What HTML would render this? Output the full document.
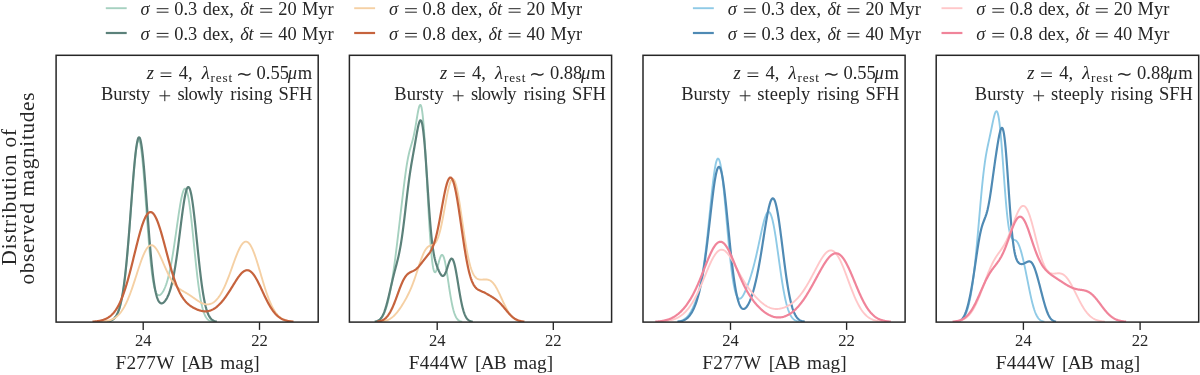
<!DOCTYPE html>
<html><head><meta charset="utf-8"><title>figure</title>
<style>
html,body{margin:0;padding:0;background:#fff;}
body{width:1200px;height:375px;overflow:hidden;}
svg{display:block;}
text{font-family:"Liberation Serif",serif;fill:#262626;}
.i{font-style:italic;}
</style></head><body>
<svg width="1200" height="375" viewBox="0 0 1200 375">
<rect x="0" y="0" width="1200" height="375" fill="#ffffff"/>
<g opacity="0.999">
<line x1="105.80" y1="8.20" x2="126.70" y2="8.20" stroke="#a6d1c0" stroke-width="1.9"/>
<text x="140.60" y="14.80" font-size="18.4" class="i">&#963;</text>
<line x1="156.70" y1="8.70" x2="168.50" y2="8.70" stroke="#262626" stroke-width="1.0"/>
<line x1="156.70" y1="12.20" x2="168.50" y2="12.20" stroke="#262626" stroke-width="1.0"/>
<text x="174.20" y="14.80" font-size="18.4">0.3</text>
<text x="202.80" y="14.80" font-size="18.4">dex,</text>
<text x="240.20" y="14.80" font-size="18.4" class="i">&#948;</text>
<text x="248.60" y="14.80" font-size="18.4" class="i">t</text>
<line x1="260.20" y1="8.70" x2="272.20" y2="8.70" stroke="#262626" stroke-width="1.0"/>
<line x1="260.20" y1="12.20" x2="272.20" y2="12.20" stroke="#262626" stroke-width="1.0"/>
<text x="278.20" y="14.80" font-size="18.4">20</text>
<text x="302.00" y="14.80" font-size="18.4">Myr</text>
<line x1="105.80" y1="33.00" x2="126.70" y2="33.00" stroke="#5b817a" stroke-width="2.2"/>
<text x="140.60" y="39.50" font-size="18.4" class="i">&#963;</text>
<line x1="156.70" y1="33.40" x2="168.50" y2="33.40" stroke="#262626" stroke-width="1.0"/>
<line x1="156.70" y1="36.90" x2="168.50" y2="36.90" stroke="#262626" stroke-width="1.0"/>
<text x="174.20" y="39.50" font-size="18.4">0.3</text>
<text x="202.80" y="39.50" font-size="18.4">dex,</text>
<text x="240.20" y="39.50" font-size="18.4" class="i">&#948;</text>
<text x="248.60" y="39.50" font-size="18.4" class="i">t</text>
<line x1="260.20" y1="33.40" x2="272.20" y2="33.40" stroke="#262626" stroke-width="1.0"/>
<line x1="260.20" y1="36.90" x2="272.20" y2="36.90" stroke="#262626" stroke-width="1.0"/>
<text x="278.20" y="39.50" font-size="18.4">40</text>
<text x="302.00" y="39.50" font-size="18.4">Myr</text>
<line x1="354.20" y1="8.20" x2="375.10" y2="8.20" stroke="#f5d0a4" stroke-width="1.9"/>
<text x="389.00" y="14.80" font-size="18.4" class="i">&#963;</text>
<line x1="405.10" y1="8.70" x2="416.90" y2="8.70" stroke="#262626" stroke-width="1.0"/>
<line x1="405.10" y1="12.20" x2="416.90" y2="12.20" stroke="#262626" stroke-width="1.0"/>
<text x="422.60" y="14.80" font-size="18.4">0.8</text>
<text x="451.20" y="14.80" font-size="18.4">dex,</text>
<text x="488.60" y="14.80" font-size="18.4" class="i">&#948;</text>
<text x="497.00" y="14.80" font-size="18.4" class="i">t</text>
<line x1="508.60" y1="8.70" x2="520.60" y2="8.70" stroke="#262626" stroke-width="1.0"/>
<line x1="508.60" y1="12.20" x2="520.60" y2="12.20" stroke="#262626" stroke-width="1.0"/>
<text x="526.60" y="14.80" font-size="18.4">20</text>
<text x="550.40" y="14.80" font-size="18.4">Myr</text>
<line x1="354.20" y1="33.00" x2="375.10" y2="33.00" stroke="#c6633d" stroke-width="2.2"/>
<text x="389.00" y="39.50" font-size="18.4" class="i">&#963;</text>
<line x1="405.10" y1="33.40" x2="416.90" y2="33.40" stroke="#262626" stroke-width="1.0"/>
<line x1="405.10" y1="36.90" x2="416.90" y2="36.90" stroke="#262626" stroke-width="1.0"/>
<text x="422.60" y="39.50" font-size="18.4">0.8</text>
<text x="451.20" y="39.50" font-size="18.4">dex,</text>
<text x="488.60" y="39.50" font-size="18.4" class="i">&#948;</text>
<text x="497.00" y="39.50" font-size="18.4" class="i">t</text>
<line x1="508.60" y1="33.40" x2="520.60" y2="33.40" stroke="#262626" stroke-width="1.0"/>
<line x1="508.60" y1="36.90" x2="520.60" y2="36.90" stroke="#262626" stroke-width="1.0"/>
<text x="526.60" y="39.50" font-size="18.4">40</text>
<text x="550.40" y="39.50" font-size="18.4">Myr</text>
<line x1="692.90" y1="8.20" x2="713.80" y2="8.20" stroke="#8fcae6" stroke-width="1.9"/>
<text x="727.80" y="14.80" font-size="18.4" class="i">&#963;</text>
<line x1="743.90" y1="8.70" x2="755.70" y2="8.70" stroke="#262626" stroke-width="1.0"/>
<line x1="743.90" y1="12.20" x2="755.70" y2="12.20" stroke="#262626" stroke-width="1.0"/>
<text x="761.40" y="14.80" font-size="18.4">0.3</text>
<text x="790.00" y="14.80" font-size="18.4">dex,</text>
<text x="827.40" y="14.80" font-size="18.4" class="i">&#948;</text>
<text x="835.80" y="14.80" font-size="18.4" class="i">t</text>
<line x1="847.40" y1="8.70" x2="859.40" y2="8.70" stroke="#262626" stroke-width="1.0"/>
<line x1="847.40" y1="12.20" x2="859.40" y2="12.20" stroke="#262626" stroke-width="1.0"/>
<text x="865.40" y="14.80" font-size="18.4">20</text>
<text x="889.20" y="14.80" font-size="18.4">Myr</text>
<line x1="692.90" y1="33.00" x2="713.80" y2="33.00" stroke="#4f8ab4" stroke-width="2.2"/>
<text x="727.80" y="39.50" font-size="18.4" class="i">&#963;</text>
<line x1="743.90" y1="33.40" x2="755.70" y2="33.40" stroke="#262626" stroke-width="1.0"/>
<line x1="743.90" y1="36.90" x2="755.70" y2="36.90" stroke="#262626" stroke-width="1.0"/>
<text x="761.40" y="39.50" font-size="18.4">0.3</text>
<text x="790.00" y="39.50" font-size="18.4">dex,</text>
<text x="827.40" y="39.50" font-size="18.4" class="i">&#948;</text>
<text x="835.80" y="39.50" font-size="18.4" class="i">t</text>
<line x1="847.40" y1="33.40" x2="859.40" y2="33.40" stroke="#262626" stroke-width="1.0"/>
<line x1="847.40" y1="36.90" x2="859.40" y2="36.90" stroke="#262626" stroke-width="1.0"/>
<text x="865.40" y="39.50" font-size="18.4">40</text>
<text x="889.20" y="39.50" font-size="18.4">Myr</text>
<line x1="941.50" y1="8.20" x2="962.40" y2="8.20" stroke="#ffc7c9" stroke-width="1.9"/>
<text x="976.20" y="14.80" font-size="18.4" class="i">&#963;</text>
<line x1="992.30" y1="8.70" x2="1004.10" y2="8.70" stroke="#262626" stroke-width="1.0"/>
<line x1="992.30" y1="12.20" x2="1004.10" y2="12.20" stroke="#262626" stroke-width="1.0"/>
<text x="1009.80" y="14.80" font-size="18.4">0.8</text>
<text x="1038.40" y="14.80" font-size="18.4">dex,</text>
<text x="1075.80" y="14.80" font-size="18.4" class="i">&#948;</text>
<text x="1084.20" y="14.80" font-size="18.4" class="i">t</text>
<line x1="1095.80" y1="8.70" x2="1107.80" y2="8.70" stroke="#262626" stroke-width="1.0"/>
<line x1="1095.80" y1="12.20" x2="1107.80" y2="12.20" stroke="#262626" stroke-width="1.0"/>
<text x="1113.80" y="14.80" font-size="18.4">20</text>
<text x="1137.60" y="14.80" font-size="18.4">Myr</text>
<line x1="941.50" y1="33.00" x2="962.40" y2="33.00" stroke="#f0849a" stroke-width="2.2"/>
<text x="976.20" y="39.50" font-size="18.4" class="i">&#963;</text>
<line x1="992.30" y1="33.40" x2="1004.10" y2="33.40" stroke="#262626" stroke-width="1.0"/>
<line x1="992.30" y1="36.90" x2="1004.10" y2="36.90" stroke="#262626" stroke-width="1.0"/>
<text x="1009.80" y="39.50" font-size="18.4">0.8</text>
<text x="1038.40" y="39.50" font-size="18.4">dex,</text>
<text x="1075.80" y="39.50" font-size="18.4" class="i">&#948;</text>
<text x="1084.20" y="39.50" font-size="18.4" class="i">t</text>
<line x1="1095.80" y1="33.40" x2="1107.80" y2="33.40" stroke="#262626" stroke-width="1.0"/>
<line x1="1095.80" y1="36.90" x2="1107.80" y2="36.90" stroke="#262626" stroke-width="1.0"/>
<text x="1113.80" y="39.50" font-size="18.4">40</text>
<text x="1137.60" y="39.50" font-size="18.4">Myr</text>
<clipPath id="cp0"><rect x="56.1" y="55.3" width="262.10" height="266.80"/></clipPath>
<g clip-path="url(#cp0)" fill="none" stroke-linejoin="round" stroke-linecap="butt">
<path d="M107.2,321.67 L107.7,321.60 L108.2,321.52 L108.7,321.42 L109.2,321.31 L109.7,321.18 L110.2,321.02 L110.7,320.85 L111.2,320.64 L111.7,320.40 L112.2,320.13 L112.7,319.81 L113.2,319.45 L113.7,319.05 L114.2,318.58 L114.7,318.06 L115.2,317.46 L115.7,316.79 L116.2,316.04 L116.7,315.19 L117.2,314.24 L117.7,313.19 L118.2,312.01 L118.7,310.70 L119.2,309.24 L119.7,307.63 L120.2,305.84 L120.7,303.88 L121.2,301.72 L121.7,299.35 L122.2,296.75 L122.7,293.92 L123.2,290.83 L123.7,287.49 L124.2,283.87 L124.7,279.97 L125.2,275.79 L125.7,271.31 L126.2,266.55 L126.7,261.49 L127.2,256.16 L127.7,250.55 L128.2,244.69 L128.7,238.60 L129.2,232.30 L129.7,225.84 L130.2,219.24 L130.7,212.55 L131.2,205.82 L131.7,199.10 L132.2,192.45 L132.7,185.94 L133.2,179.62 L133.7,173.55 L134.2,167.82 L134.7,162.47 L135.2,157.57 L135.7,153.19 L136.2,149.37 L136.7,146.17 L137.2,143.63 L137.7,141.78 L138.2,140.65 L138.7,140.27 L139.2,140.63 L139.7,141.74 L140.2,143.58 L140.7,146.13 L141.2,149.37 L141.7,153.25 L142.2,157.72 L142.7,162.73 L143.2,168.21 L143.7,174.11 L144.2,180.36 L144.7,186.87 L145.2,193.59 L145.7,200.43 L146.2,207.33 L146.7,214.22 L147.2,221.04 L147.7,227.72 L148.2,234.22 L148.7,240.48 L149.2,246.47 L149.7,252.14 L150.2,257.48 L150.7,262.45 L151.2,267.05 L151.7,271.26 L152.2,275.08 L152.7,278.52 L153.2,281.59 L153.7,284.28 L154.2,286.62 L154.7,288.63 L155.2,290.33 L155.7,291.74 L156.2,292.87 L156.7,293.76 L157.2,294.42 L157.7,294.88 L158.2,295.16 L158.7,295.27 L159.2,295.24 L159.7,295.08 L160.2,294.81 L160.7,294.43 L161.2,293.95 L161.7,293.38 L162.2,292.73 L162.7,291.99 L163.2,291.17 L163.7,290.26 L164.2,289.27 L164.7,288.18 L165.2,287.00 L165.7,285.72 L166.2,284.33 L166.7,282.83 L167.2,281.21 L167.7,279.46 L168.2,277.60 L168.7,275.60 L169.2,273.47 L169.7,271.20 L170.2,268.81 L170.7,266.28 L171.2,263.63 L171.7,260.85 L172.2,257.95 L172.7,254.93 L173.2,251.82 L173.7,248.60 L174.2,245.31 L174.7,241.94 L175.2,238.51 L175.7,235.03 L176.2,231.53 L176.7,228.01 L177.2,224.50 L177.7,221.01 L178.2,217.57 L178.7,214.20 L179.2,210.93 L179.7,207.78 L180.2,204.77 L180.7,201.93 L181.2,199.30 L181.7,196.89 L182.2,194.75 L182.7,192.88 L183.2,191.32 L183.7,190.10 L184.2,189.23 L184.7,188.74 L185.2,188.64 L185.7,188.94 L186.2,189.66 L186.7,190.79 L187.2,192.34 L187.7,194.30 L188.2,196.66 L188.7,199.42 L189.2,202.53 L189.7,205.99 L190.2,209.77 L190.7,213.83 L191.2,218.14 L191.7,222.66 L192.2,227.36 L192.7,232.19 L193.2,237.11 L193.7,242.08 L194.2,247.07 L194.7,252.03 L195.2,256.93 L195.7,261.74 L196.2,266.42 L196.7,270.96 L197.2,275.32 L197.7,279.49 L198.2,283.45 L198.7,287.19 L199.2,290.71 L199.7,293.98 L200.2,297.03 L200.7,299.84 L201.2,302.41 L201.7,304.77 L202.2,306.90 L202.7,308.83 L203.2,310.56 L203.7,312.11 L204.2,313.49 L204.7,314.70 L205.2,315.77 L205.7,316.71 L206.2,317.53 L206.7,318.23 L207.2,318.84 L207.7,319.36 L208.2,319.81 L208.7,320.19 L209.2,320.51 L209.7,320.77 L210.2,321.00 L210.7,321.19 L211.2,321.34 L211.7,321.47 L212.2,321.57 L212.7,321.66" stroke="#a6d1c0" stroke-width="1.9"/>
<path d="M106.3,321.66 L106.8,321.60 L107.3,321.53 L107.8,321.45 L108.3,321.35 L108.8,321.24 L109.3,321.11 L109.8,320.96 L110.3,320.79 L110.8,320.59 L111.3,320.37 L111.8,320.11 L112.3,319.82 L112.8,319.49 L113.3,319.12 L113.8,318.69 L114.3,318.21 L114.8,317.67 L115.3,317.06 L115.8,316.37 L116.3,315.59 L116.8,314.72 L117.3,313.75 L117.8,312.66 L118.3,311.44 L118.8,310.08 L119.3,308.57 L119.8,306.90 L120.3,305.04 L120.8,302.99 L121.3,300.74 L121.8,298.26 L122.3,295.55 L122.8,292.60 L123.3,289.39 L123.8,285.90 L124.3,282.15 L124.8,278.11 L125.3,273.78 L125.8,269.16 L126.3,264.27 L126.8,259.09 L127.3,253.64 L127.8,247.95 L128.3,242.02 L128.8,235.87 L129.3,229.55 L129.8,223.08 L130.3,216.50 L130.8,209.86 L131.3,203.19 L131.8,196.56 L132.3,190.00 L132.8,183.59 L133.3,177.37 L133.8,171.41 L134.3,165.76 L134.8,160.47 L135.3,155.62 L135.8,151.24 L136.3,147.38 L136.8,144.09 L137.3,141.41 L137.8,139.37 L138.3,138.00 L138.8,137.30 L139.3,137.29 L139.8,137.98 L140.3,139.35 L140.8,141.39 L141.3,144.08 L141.8,147.38 L142.3,151.27 L142.8,155.70 L143.3,160.61 L143.8,165.97 L144.3,171.71 L144.8,177.76 L145.3,184.08 L145.8,190.61 L146.3,197.27 L146.8,204.00 L147.3,210.77 L147.8,217.49 L148.3,224.13 L148.8,230.64 L149.3,236.97 L149.8,243.09 L150.3,248.96 L150.8,254.56 L151.3,259.85 L151.8,264.84 L152.3,269.49 L152.8,273.80 L153.3,277.78 L153.8,281.42 L154.3,284.72 L154.8,287.70 L155.3,290.36 L155.8,292.72 L156.3,294.79 L156.8,296.58 L157.3,298.13 L157.8,299.43 L158.3,300.51 L158.8,301.39 L159.3,302.08 L159.8,302.61 L160.3,302.98 L160.8,303.21 L161.3,303.32 L161.8,303.31 L162.3,303.20 L162.8,302.99 L163.3,302.69 L163.8,302.30 L164.3,301.84 L164.8,301.29 L165.3,300.67 L165.8,299.97 L166.3,299.20 L166.8,298.34 L167.3,297.39 L167.8,296.35 L168.3,295.22 L168.8,293.99 L169.3,292.64 L169.8,291.19 L170.3,289.61 L170.8,287.91 L171.3,286.08 L171.8,284.11 L172.3,281.99 L172.8,279.73 L173.3,277.32 L173.8,274.75 L174.3,272.03 L174.8,269.15 L175.3,266.12 L175.8,262.94 L176.3,259.62 L176.8,256.16 L177.3,252.57 L177.8,248.87 L178.3,245.07 L178.8,241.18 L179.3,237.23 L179.8,233.23 L180.3,229.21 L180.8,225.20 L181.3,221.23 L181.8,217.31 L182.3,213.50 L182.8,209.82 L183.3,206.30 L183.8,202.97 L184.3,199.88 L184.8,197.05 L185.3,194.51 L185.8,192.30 L186.3,190.45 L186.8,188.97 L187.3,187.89 L187.8,187.23 L188.3,186.99 L188.8,187.20 L189.3,187.85 L189.8,188.95 L190.3,190.48 L190.8,192.44 L191.3,194.81 L191.8,197.57 L192.3,200.70 L192.8,204.17 L193.3,207.95 L193.8,212.01 L194.3,216.31 L194.8,220.80 L195.3,225.47 L195.8,230.25 L196.3,235.12 L196.8,240.04 L197.3,244.97 L197.8,249.87 L198.3,254.71 L198.8,259.46 L199.3,264.10 L199.8,268.59 L200.3,272.93 L200.8,277.08 L201.3,281.04 L201.8,284.79 L202.3,288.32 L202.8,291.64 L203.3,294.74 L203.8,297.61 L204.3,300.26 L204.8,302.70 L205.3,304.93 L205.8,306.97 L206.3,308.81 L206.8,310.47 L207.3,311.96 L207.8,313.29 L208.3,314.47 L208.8,315.52 L209.3,316.44 L209.8,317.25 L210.3,317.96 L210.8,318.58 L211.3,319.11 L211.8,319.57 L212.3,319.96 L212.8,320.30 L213.3,320.59 L213.8,320.83 L214.3,321.04 L214.8,321.21 L215.3,321.35 L215.8,321.47 L216.3,321.57 L216.8,321.65" stroke="#5b817a" stroke-width="2.2"/>
<path d="M101.0,321.68 L101.5,321.65 L102.0,321.61 L102.5,321.57 L103.0,321.52 L103.5,321.47 L104.0,321.41 L104.5,321.35 L105.0,321.28 L105.5,321.21 L106.0,321.13 L106.5,321.04 L107.0,320.94 L107.5,320.84 L108.0,320.73 L108.5,320.60 L109.0,320.47 L109.5,320.33 L110.0,320.17 L110.5,320.00 L111.0,319.82 L111.5,319.63 L112.0,319.42 L112.5,319.19 L113.0,318.95 L113.5,318.69 L114.0,318.41 L114.5,318.11 L115.0,317.79 L115.5,317.45 L116.0,317.09 L116.5,316.70 L117.0,316.29 L117.5,315.85 L118.0,315.39 L118.5,314.89 L119.0,314.37 L119.5,313.82 L120.0,313.24 L120.5,312.62 L121.0,311.98 L121.5,311.30 L122.0,310.58 L122.5,309.83 L123.0,309.05 L123.5,308.22 L124.0,307.36 L124.5,306.47 L125.0,305.53 L125.5,304.56 L126.0,303.55 L126.5,302.50 L127.0,301.41 L127.5,300.28 L128.0,299.12 L128.5,297.92 L129.0,296.69 L129.5,295.42 L130.0,294.11 L130.5,292.78 L131.0,291.41 L131.5,290.01 L132.0,288.59 L132.5,287.14 L133.0,285.67 L133.5,284.17 L134.0,282.66 L134.5,281.13 L135.0,279.59 L135.5,278.04 L136.0,276.49 L136.5,274.93 L137.0,273.37 L137.5,271.81 L138.0,270.27 L138.5,268.73 L139.0,267.22 L139.5,265.72 L140.0,264.24 L140.5,262.80 L141.0,261.38 L141.5,260.00 L142.0,258.67 L142.5,257.37 L143.0,256.13 L143.5,254.93 L144.0,253.79 L144.5,252.71 L145.0,251.69 L145.5,250.74 L146.0,249.86 L146.5,249.04 L147.0,248.30 L147.5,247.64 L148.0,247.05 L148.5,246.54 L149.0,246.11 L149.5,245.77 L150.0,245.50 L150.5,245.32 L151.0,245.22 L151.5,245.20 L152.0,245.27 L152.5,245.41 L153.0,245.63 L153.5,245.93 L154.0,246.31 L154.5,246.76 L155.0,247.28 L155.5,247.87 L156.0,248.52 L156.5,249.24 L157.0,250.01 L157.5,250.84 L158.0,251.72 L158.5,252.64 L159.0,253.61 L159.5,254.62 L160.0,255.66 L160.5,256.73 L161.0,257.83 L161.5,258.94 L162.0,260.08 L162.5,261.22 L163.0,262.38 L163.5,263.54 L164.0,264.70 L164.5,265.85 L165.0,267.00 L165.5,268.14 L166.0,269.26 L166.5,270.37 L167.0,271.45 L167.5,272.52 L168.0,273.55 L168.5,274.57 L169.0,275.55 L169.5,276.50 L170.0,277.42 L170.5,278.31 L171.0,279.17 L171.5,279.99 L172.0,280.77 L172.5,281.52 L173.0,282.24 L173.5,282.93 L174.0,283.58 L174.5,284.20 L175.0,284.78 L175.5,285.34 L176.0,285.87 L176.5,286.37 L177.0,286.84 L177.5,287.29 L178.0,287.72 L178.5,288.12 L179.0,288.51 L179.5,288.88 L180.0,289.23 L180.5,289.57 L181.0,289.90 L181.5,290.21 L182.0,290.52 L182.5,290.82 L183.0,291.12 L183.5,291.41 L184.0,291.70 L184.5,291.99 L185.0,292.28 L185.5,292.57 L186.0,292.86 L186.5,293.16 L187.0,293.46 L187.5,293.76 L188.0,294.07 L188.5,294.38 L189.0,294.70 L189.5,295.02 L190.0,295.35 L190.5,295.69 L191.0,296.02 L191.5,296.37 L192.0,296.71 L192.5,297.06 L193.0,297.41 L193.5,297.77 L194.0,298.12 L194.5,298.48 L195.0,298.83 L195.5,299.18 L196.0,299.53 L196.5,299.88 L197.0,300.22 L197.5,300.55 L198.0,300.88 L198.5,301.20 L199.0,301.51 L199.5,301.81 L200.0,302.10 L200.5,302.38 L201.0,302.64 L201.5,302.88 L202.0,303.12 L202.5,303.33 L203.0,303.53 L203.5,303.71 L204.0,303.87 L204.5,304.01 L205.0,304.13 L205.5,304.23 L206.0,304.31 L206.5,304.36 L207.0,304.39 L207.5,304.40 L208.0,304.38 L208.5,304.33 L209.0,304.26 L209.5,304.16 L210.0,304.04 L210.5,303.89 L211.0,303.71 L211.5,303.50 L212.0,303.27 L212.5,303.00 L213.0,302.70 L213.5,302.38 L214.0,302.02 L214.5,301.63 L215.0,301.21 L215.5,300.76 L216.0,300.28 L216.5,299.76 L217.0,299.21 L217.5,298.62 L218.0,298.01 L218.5,297.35 L219.0,296.67 L219.5,295.94 L220.0,295.19 L220.5,294.39 L221.0,293.57 L221.5,292.70 L222.0,291.81 L222.5,290.87 L223.0,289.90 L223.5,288.90 L224.0,287.86 L224.5,286.79 L225.0,285.69 L225.5,284.56 L226.0,283.39 L226.5,282.19 L227.0,280.97 L227.5,279.72 L228.0,278.44 L228.5,277.14 L229.0,275.82 L229.5,274.48 L230.0,273.12 L230.5,271.75 L231.0,270.37 L231.5,268.97 L232.0,267.58 L232.5,266.18 L233.0,264.78 L233.5,263.39 L234.0,262.00 L234.5,260.63 L235.0,259.27 L235.5,257.94 L236.0,256.62 L236.5,255.34 L237.0,254.09 L237.5,252.88 L238.0,251.70 L238.5,250.58 L239.0,249.50 L239.5,248.48 L240.0,247.51 L240.5,246.60 L241.0,245.76 L241.5,244.99 L242.0,244.29 L242.5,243.67 L243.0,243.12 L243.5,242.66 L244.0,242.27 L244.5,241.97 L245.0,241.76 L245.5,241.64 L246.0,241.61 L246.5,241.66 L247.0,241.81 L247.5,242.05 L248.0,242.38 L248.5,242.79 L249.0,243.30 L249.5,243.90 L250.0,244.58 L250.5,245.35 L251.0,246.19 L251.5,247.12 L252.0,248.13 L252.5,249.20 L253.0,250.35 L253.5,251.57 L254.0,252.85 L254.5,254.19 L255.0,255.58 L255.5,257.02 L256.0,258.51 L256.5,260.04 L257.0,261.61 L257.5,263.22 L258.0,264.85 L258.5,266.50 L259.0,268.17 L259.5,269.86 L260.0,271.55 L260.5,273.26 L261.0,274.96 L261.5,276.66 L262.0,278.35 L262.5,280.04 L263.0,281.70 L263.5,283.36 L264.0,284.98 L264.5,286.59 L265.0,288.17 L265.5,289.72 L266.0,291.23 L266.5,292.71 L267.0,294.16 L267.5,295.57 L268.0,296.94 L268.5,298.26 L269.0,299.55 L269.5,300.79 L270.0,301.99 L270.5,303.15 L271.0,304.26 L271.5,305.32 L272.0,306.35 L272.5,307.33 L273.0,308.26 L273.5,309.15 L274.0,310.00 L274.5,310.81 L275.0,311.57 L275.5,312.30 L276.0,312.99 L276.5,313.63 L277.0,314.25 L277.5,314.82 L278.0,315.36 L278.5,315.87 L279.0,316.35 L279.5,316.80 L280.0,317.21 L280.5,317.60 L281.0,317.97 L281.5,318.30 L282.0,318.62 L282.5,318.91 L283.0,319.18 L283.5,319.43 L284.0,319.66 L284.5,319.87 L285.0,320.07 L285.5,320.25 L286.0,320.41 L286.5,320.56 L287.0,320.70 L287.5,320.83 L288.0,320.94 L288.5,321.05 L289.0,321.15 L289.5,321.23 L290.0,321.31 L290.5,321.38 L291.0,321.45 L291.5,321.51 L292.0,321.56 L292.5,321.61 L293.0,321.65" stroke="#f5d0a4" stroke-width="1.9"/>
<path d="M92.5,321.65 L93.0,321.62 L93.5,321.58 L94.0,321.54 L94.5,321.50 L95.0,321.45 L95.5,321.40 L96.0,321.35 L96.5,321.29 L97.0,321.22 L97.5,321.15 L98.0,321.08 L98.5,321.00 L99.0,320.91 L99.5,320.81 L100.0,320.71 L100.5,320.60 L101.0,320.49 L101.5,320.36 L102.0,320.23 L102.5,320.08 L103.0,319.93 L103.5,319.77 L104.0,319.59 L104.5,319.40 L105.0,319.20 L105.5,318.98 L106.0,318.75 L106.5,318.51 L107.0,318.24 L107.5,317.97 L108.0,317.67 L108.5,317.35 L109.0,317.02 L109.5,316.66 L110.0,316.29 L110.5,315.89 L111.0,315.46 L111.5,315.01 L112.0,314.53 L112.5,314.03 L113.0,313.50 L113.5,312.94 L114.0,312.34 L114.5,311.72 L115.0,311.06 L115.5,310.37 L116.0,309.64 L116.5,308.88 L117.0,308.07 L117.5,307.23 L118.0,306.35 L118.5,305.43 L119.0,304.46 L119.5,303.46 L120.0,302.41 L120.5,301.31 L121.0,300.17 L121.5,298.98 L122.0,297.75 L122.5,296.48 L123.0,295.15 L123.5,293.78 L124.0,292.37 L124.5,290.90 L125.0,289.40 L125.5,287.85 L126.0,286.25 L126.5,284.61 L127.0,282.93 L127.5,281.20 L128.0,279.44 L128.5,277.64 L129.0,275.81 L129.5,273.94 L130.0,272.04 L130.5,270.11 L131.0,268.16 L131.5,266.18 L132.0,264.18 L132.5,262.17 L133.0,260.14 L133.5,258.10 L134.0,256.06 L134.5,254.02 L135.0,251.97 L135.5,249.93 L136.0,247.90 L136.5,245.89 L137.0,243.90 L137.5,241.92 L138.0,239.98 L138.5,238.07 L139.0,236.19 L139.5,234.36 L140.0,232.57 L140.5,230.83 L141.0,229.14 L141.5,227.52 L142.0,225.95 L142.5,224.45 L143.0,223.03 L143.5,221.67 L144.0,220.40 L144.5,219.20 L145.0,218.09 L145.5,217.07 L146.0,216.13 L146.5,215.29 L147.0,214.54 L147.5,213.89 L148.0,213.33 L148.5,212.88 L149.0,212.52 L149.5,212.27 L150.0,212.12 L150.5,212.06 L151.0,212.11 L151.5,212.26 L152.0,212.52 L152.5,212.87 L153.0,213.32 L153.5,213.86 L154.0,214.50 L154.5,215.24 L155.0,216.06 L155.5,216.98 L156.0,217.97 L156.5,219.06 L157.0,220.22 L157.5,221.45 L158.0,222.76 L158.5,224.14 L159.0,225.58 L159.5,227.08 L160.0,228.64 L160.5,230.25 L161.0,231.91 L161.5,233.62 L162.0,235.36 L162.5,237.14 L163.0,238.95 L163.5,240.79 L164.0,242.64 L164.5,244.52 L165.0,246.41 L165.5,248.30 L166.0,250.20 L166.5,252.11 L167.0,254.00 L167.5,255.89 L168.0,257.77 L168.5,259.64 L169.0,261.49 L169.5,263.31 L170.0,265.12 L170.5,266.89 L171.0,268.64 L171.5,270.35 L172.0,272.03 L172.5,273.67 L173.0,275.27 L173.5,276.83 L174.0,278.36 L174.5,279.83 L175.0,281.27 L175.5,282.66 L176.0,284.01 L176.5,285.31 L177.0,286.56 L177.5,287.77 L178.0,288.93 L178.5,290.05 L179.0,291.12 L179.5,292.14 L180.0,293.13 L180.5,294.07 L181.0,294.97 L181.5,295.83 L182.0,296.65 L182.5,297.43 L183.0,298.17 L183.5,298.88 L184.0,299.55 L184.5,300.19 L185.0,300.81 L185.5,301.39 L186.0,301.94 L186.5,302.47 L187.0,302.97 L187.5,303.44 L188.0,303.90 L188.5,304.33 L189.0,304.75 L189.5,305.14 L190.0,305.52 L190.5,305.88 L191.0,306.23 L191.5,306.56 L192.0,306.88 L192.5,307.19 L193.0,307.48 L193.5,307.76 L194.0,308.04 L194.5,308.30 L195.0,308.55 L195.5,308.79 L196.0,309.02 L196.5,309.24 L197.0,309.45 L197.5,309.66 L198.0,309.85 L198.5,310.03 L199.0,310.20 L199.5,310.36 L200.0,310.51 L200.5,310.65 L201.0,310.78 L201.5,310.90 L202.0,311.00 L202.5,311.09 L203.0,311.17 L203.5,311.23 L204.0,311.28 L204.5,311.32 L205.0,311.34 L205.5,311.34 L206.0,311.33 L206.5,311.31 L207.0,311.26 L207.5,311.20 L208.0,311.12 L208.5,311.03 L209.0,310.92 L209.5,310.79 L210.0,310.64 L210.5,310.47 L211.0,310.29 L211.5,310.08 L212.0,309.86 L212.5,309.62 L213.0,309.36 L213.5,309.08 L214.0,308.79 L214.5,308.47 L215.0,308.14 L215.5,307.78 L216.0,307.41 L216.5,307.03 L217.0,306.62 L217.5,306.19 L218.0,305.75 L218.5,305.29 L219.0,304.81 L219.5,304.32 L220.0,303.81 L220.5,303.28 L221.0,302.73 L221.5,302.17 L222.0,301.59 L222.5,300.99 L223.0,300.38 L223.5,299.75 L224.0,299.11 L224.5,298.45 L225.0,297.78 L225.5,297.09 L226.0,296.39 L226.5,295.68 L227.0,294.95 L227.5,294.21 L228.0,293.46 L228.5,292.70 L229.0,291.92 L229.5,291.14 L230.0,290.35 L230.5,289.56 L231.0,288.75 L231.5,287.94 L232.0,287.13 L232.5,286.32 L233.0,285.50 L233.5,284.69 L234.0,283.87 L234.5,283.07 L235.0,282.26 L235.5,281.47 L236.0,280.68 L236.5,279.91 L237.0,279.15 L237.5,278.41 L238.0,277.68 L238.5,276.98 L239.0,276.30 L239.5,275.64 L240.0,275.01 L240.5,274.41 L241.0,273.84 L241.5,273.31 L242.0,272.81 L242.5,272.35 L243.0,271.93 L243.5,271.55 L244.0,271.21 L244.5,270.92 L245.0,270.68 L245.5,270.49 L246.0,270.35 L246.5,270.25 L247.0,270.21 L247.5,270.23 L248.0,270.29 L248.5,270.41 L249.0,270.58 L249.5,270.81 L250.0,271.09 L250.5,271.43 L251.0,271.81 L251.5,272.25 L252.0,272.74 L252.5,273.28 L253.0,273.87 L253.5,274.50 L254.0,275.18 L254.5,275.90 L255.0,276.67 L255.5,277.47 L256.0,278.31 L256.5,279.18 L257.0,280.09 L257.5,281.02 L258.0,281.98 L258.5,282.97 L259.0,283.97 L259.5,285.00 L260.0,286.04 L260.5,287.09 L261.0,288.15 L261.5,289.22 L262.0,290.30 L262.5,291.38 L263.0,292.45 L263.5,293.53 L264.0,294.60 L264.5,295.66 L265.0,296.71 L265.5,297.74 L266.0,298.77 L266.5,299.78 L267.0,300.77 L267.5,301.74 L268.0,302.69 L268.5,303.62 L269.0,304.53 L269.5,305.41 L270.0,306.26 L270.5,307.10 L271.0,307.90 L271.5,308.68 L272.0,309.43 L272.5,310.15 L273.0,310.85 L273.5,311.51 L274.0,312.15 L274.5,312.77 L275.0,313.35 L275.5,313.91 L276.0,314.44 L276.5,314.94 L277.0,315.42 L277.5,315.88 L278.0,316.31 L278.5,316.72 L279.0,317.10 L279.5,317.46 L280.0,317.80 L280.5,318.12 L281.0,318.42 L281.5,318.70 L282.0,318.96 L282.5,319.20 L283.0,319.43 L283.5,319.64 L284.0,319.84 L284.5,320.03 L285.0,320.20 L285.5,320.35 L286.0,320.50 L286.5,320.63 L287.0,320.76 L287.5,320.87 L288.0,320.97 L288.5,321.07 L289.0,321.16 L289.5,321.24 L290.0,321.31 L290.5,321.38 L291.0,321.44 L291.5,321.50 L292.0,321.55 L292.5,321.59 L293.0,321.64 L293.5,321.67" stroke="#c6633d" stroke-width="2.2"/>
</g>
<clipPath id="cp1"><rect x="349.4" y="55.3" width="262.20" height="266.80"/></clipPath>
<g clip-path="url(#cp1)" fill="none" stroke-linejoin="round" stroke-linecap="butt">
<path d="M374.7,321.70 L375.2,321.62 L375.7,321.52 L376.2,321.41 L376.7,321.27 L377.2,321.10 L377.7,320.90 L378.2,320.66 L378.7,320.38 L379.2,320.06 L379.7,319.69 L380.2,319.26 L380.7,318.77 L381.2,318.21 L381.7,317.59 L382.2,316.88 L382.7,316.09 L383.2,315.22 L383.7,314.25 L384.2,313.18 L384.7,312.02 L385.2,310.75 L385.7,309.36 L386.2,307.87 L386.7,306.25 L387.2,304.51 L387.7,302.64 L388.2,300.65 L388.7,298.52 L389.2,296.25 L389.7,293.85 L390.2,291.30 L390.7,288.61 L391.2,285.78 L391.7,282.82 L392.2,279.71 L392.7,276.47 L393.2,273.10 L393.7,269.61 L394.2,266.01 L394.7,262.30 L395.2,258.50 L395.7,254.61 L396.2,250.64 L396.7,246.61 L397.2,242.52 L397.7,238.39 L398.2,234.21 L398.7,230.00 L399.2,225.76 L399.7,221.50 L400.2,217.23 L400.7,212.94 L401.2,208.65 L401.7,204.37 L402.2,200.10 L402.7,195.86 L403.2,191.67 L403.7,187.55 L404.2,183.51 L404.7,179.59 L405.2,175.80 L405.7,172.16 L406.2,168.71 L406.7,165.46 L407.2,162.43 L407.7,159.63 L408.2,157.04 L408.7,154.68 L409.2,152.52 L409.7,150.54 L410.2,148.69 L410.7,146.95 L411.2,145.26 L411.7,143.57 L412.2,141.83 L412.7,140.00 L413.2,138.02 L413.7,135.87 L414.2,133.52 L414.7,130.98 L415.2,128.24 L415.7,125.34 L416.2,122.33 L416.7,119.27 L417.2,116.25 L417.7,113.36 L418.2,110.71 L418.7,108.42 L419.2,106.61 L419.7,105.38 L420.2,104.85 L420.7,105.12 L421.2,106.25 L421.7,108.32 L422.2,111.36 L422.7,115.38 L423.2,120.37 L423.7,126.28 L424.2,133.06 L424.7,140.62 L425.2,148.86 L425.7,157.64 L426.2,166.84 L426.7,176.32 L427.2,185.92 L427.7,195.50 L428.2,204.93 L428.7,214.05 L429.2,222.77 L429.7,230.95 L430.2,238.52 L430.7,245.40 L431.2,251.52 L431.7,256.85 L432.2,261.36 L432.7,265.06 L433.2,267.95 L433.7,270.07 L434.2,271.45 L434.7,272.15 L435.2,272.24 L435.7,271.79 L436.2,270.87 L436.7,269.58 L437.2,268.01 L437.7,266.24 L438.2,264.37 L438.7,262.48 L439.2,260.66 L439.7,258.98 L440.2,257.52 L440.7,256.33 L441.2,255.47 L441.7,254.98 L442.2,254.88 L442.7,255.19 L443.2,255.93 L443.7,257.08 L444.2,258.63 L444.7,260.56 L445.2,262.82 L445.7,265.39 L446.2,268.22 L446.7,271.26 L447.2,274.45 L447.7,277.74 L448.2,281.09 L448.7,284.45 L449.2,287.77 L449.7,291.01 L450.2,294.14 L450.7,297.12 L451.2,299.94 L451.7,302.57 L452.2,305.01 L452.7,307.24 L453.2,309.27 L453.7,311.10 L454.2,312.73 L454.7,314.17 L455.2,315.43 L455.7,316.52 L456.2,317.47 L456.7,318.28 L457.2,318.96 L457.7,319.54 L458.2,320.02 L458.7,320.42 L459.2,320.74 L459.7,321.01 L460.2,321.22 L460.7,321.40 L461.2,321.53 L461.7,321.64 L462.2,321.73" stroke="#a6d1c0" stroke-width="1.9"/>
<path d="M374.8,321.70 L375.3,321.62 L375.8,321.52 L376.3,321.40 L376.8,321.25 L377.3,321.07 L377.8,320.85 L378.3,320.58 L378.8,320.27 L379.3,319.91 L379.8,319.48 L380.3,318.99 L380.8,318.42 L381.3,317.77 L381.8,317.03 L382.3,316.19 L382.8,315.26 L383.3,314.22 L383.8,313.08 L384.3,311.82 L384.8,310.46 L385.3,308.98 L385.8,307.39 L386.3,305.71 L386.8,303.92 L387.3,302.05 L387.8,300.09 L388.3,298.06 L388.8,295.98 L389.3,293.85 L389.8,291.69 L390.3,289.51 L390.8,287.33 L391.3,285.16 L391.8,283.00 L392.3,280.88 L392.8,278.79 L393.3,276.74 L393.8,274.73 L394.3,272.76 L394.8,270.83 L395.3,268.92 L395.8,267.03 L396.3,265.13 L396.8,263.22 L397.3,261.26 L397.8,259.24 L398.3,257.13 L398.8,254.91 L399.3,252.55 L399.8,250.04 L400.3,247.36 L400.8,244.48 L401.3,241.42 L401.8,238.15 L402.3,234.68 L402.8,231.02 L403.3,227.18 L403.8,223.19 L404.3,219.06 L404.8,214.84 L405.3,210.54 L405.8,206.21 L406.3,201.89 L406.8,197.61 L407.3,193.40 L407.8,189.30 L408.3,185.33 L408.8,181.50 L409.3,177.84 L409.8,174.35 L410.3,171.01 L410.8,167.82 L411.3,164.76 L411.8,161.81 L412.3,158.94 L412.8,156.12 L413.3,153.33 L413.8,150.53 L414.3,147.72 L414.8,144.88 L415.3,142.01 L415.8,139.13 L416.3,136.26 L416.8,133.43 L417.3,130.70 L417.8,128.12 L418.3,125.78 L418.8,123.74 L419.3,122.10 L419.8,120.93 L420.3,120.30 L420.8,120.31 L421.3,120.99 L421.8,122.41 L422.3,124.60 L422.8,127.56 L423.3,131.30 L423.8,135.77 L424.3,140.95 L424.8,146.75 L425.3,153.10 L425.8,159.91 L426.3,167.06 L426.8,174.45 L427.3,181.97 L427.8,189.49 L428.3,196.91 L428.8,204.14 L429.3,211.09 L429.8,217.68 L430.3,223.85 L430.8,229.57 L431.3,234.80 L431.8,239.54 L432.3,243.79 L432.8,247.58 L433.3,250.92 L433.8,253.87 L434.3,256.45 L434.8,258.73 L435.3,260.74 L435.8,262.54 L436.3,264.16 L436.8,265.65 L437.3,267.02 L437.8,268.32 L438.3,269.53 L438.8,270.68 L439.3,271.76 L439.8,272.77 L440.3,273.67 L440.8,274.46 L441.3,275.12 L441.8,275.61 L442.3,275.93 L442.8,276.04 L443.3,275.94 L443.8,275.62 L444.3,275.07 L444.8,274.29 L445.3,273.31 L445.8,272.14 L446.3,270.82 L446.8,269.37 L447.3,267.84 L447.8,266.28 L448.3,264.74 L448.8,263.27 L449.3,261.92 L449.8,260.74 L450.3,259.79 L450.8,259.10 L451.3,258.70 L451.8,258.63 L452.3,258.91 L452.8,259.54 L453.3,260.52 L453.8,261.86 L454.3,263.53 L454.8,265.50 L455.3,267.76 L455.8,270.26 L456.3,272.96 L456.8,275.82 L457.3,278.79 L457.8,281.83 L458.3,284.91 L458.8,287.96 L459.3,290.97 L459.8,293.89 L460.3,296.70 L460.8,299.38 L461.3,301.90 L461.8,304.25 L462.3,306.42 L462.8,308.41 L463.3,310.22 L463.8,311.85 L464.3,313.31 L464.8,314.60 L465.3,315.74 L465.8,316.73 L466.3,317.59 L466.8,318.33 L467.3,318.96 L467.8,319.49 L468.3,319.95 L468.8,320.33 L469.3,320.64 L469.8,320.90 L470.3,321.12 L470.8,321.30 L471.3,321.44 L471.8,321.56 L472.3,321.65 L472.8,321.72" stroke="#5b817a" stroke-width="2.2"/>
<path d="M380.5,321.66 L381.0,321.61 L381.5,321.55 L382.0,321.49 L382.5,321.41 L383.0,321.33 L383.5,321.24 L384.0,321.14 L384.5,321.03 L385.0,320.91 L385.5,320.77 L386.0,320.62 L386.5,320.46 L387.0,320.28 L387.5,320.08 L388.0,319.87 L388.5,319.64 L389.0,319.39 L389.5,319.12 L390.0,318.83 L390.5,318.52 L391.0,318.18 L391.5,317.83 L392.0,317.45 L392.5,317.05 L393.0,316.63 L393.5,316.19 L394.0,315.72 L394.5,315.22 L395.0,314.71 L395.5,314.17 L396.0,313.61 L396.5,313.03 L397.0,312.43 L397.5,311.80 L398.0,311.16 L398.5,310.50 L399.0,309.82 L399.5,309.12 L400.0,308.40 L400.5,307.67 L401.0,306.92 L401.5,306.16 L402.0,305.38 L402.5,304.59 L403.0,303.78 L403.5,302.96 L404.0,302.12 L404.5,301.27 L405.0,300.40 L405.5,299.52 L406.0,298.61 L406.5,297.69 L407.0,296.75 L407.5,295.78 L408.0,294.79 L408.5,293.78 L409.0,292.74 L409.5,291.67 L410.0,290.57 L410.5,289.43 L411.0,288.27 L411.5,287.07 L412.0,285.84 L412.5,284.57 L413.0,283.26 L413.5,281.93 L414.0,280.56 L414.5,279.15 L415.0,277.72 L415.5,276.26 L416.0,274.78 L416.5,273.28 L417.0,271.76 L417.5,270.24 L418.0,268.71 L418.5,267.18 L419.0,265.66 L419.5,264.15 L420.0,262.67 L420.5,261.22 L421.0,259.80 L421.5,258.43 L422.0,257.10 L422.5,255.84 L423.0,254.64 L423.5,253.50 L424.0,252.44 L424.5,251.46 L425.0,250.56 L425.5,249.74 L426.0,249.00 L426.5,248.34 L427.0,247.76 L427.5,247.26 L428.0,246.84 L428.5,246.48 L429.0,246.18 L429.5,245.93 L430.0,245.72 L430.5,245.54 L431.0,245.38 L431.5,245.23 L432.0,245.07 L432.5,244.89 L433.0,244.68 L433.5,244.42 L434.0,244.09 L434.5,243.69 L435.0,243.20 L435.5,242.60 L436.0,241.89 L436.5,241.06 L437.0,240.09 L437.5,238.98 L438.0,237.72 L438.5,236.31 L439.0,234.75 L439.5,233.03 L440.0,231.16 L440.5,229.15 L441.0,227.00 L441.5,224.71 L442.0,222.31 L442.5,219.80 L443.0,217.21 L443.5,214.54 L444.0,211.82 L444.5,209.06 L445.0,206.30 L445.5,203.54 L446.0,200.82 L446.5,198.17 L447.0,195.59 L447.5,193.12 L448.0,190.79 L448.5,188.61 L449.0,186.60 L449.5,184.79 L450.0,183.20 L450.5,181.84 L451.0,180.73 L451.5,179.89 L452.0,179.31 L452.5,179.02 L453.0,179.01 L453.5,179.29 L454.0,179.86 L454.5,180.71 L455.0,181.85 L455.5,183.26 L456.0,184.93 L456.5,186.86 L457.0,189.02 L457.5,191.41 L458.0,193.99 L458.5,196.76 L459.0,199.69 L459.5,202.77 L460.0,205.96 L460.5,209.25 L461.0,212.61 L461.5,216.02 L462.0,219.46 L462.5,222.92 L463.0,226.35 L463.5,229.76 L464.0,233.12 L464.5,236.41 L465.0,239.62 L465.5,242.73 L466.0,245.73 L466.5,248.62 L467.0,251.37 L467.5,254.00 L468.0,256.48 L468.5,258.82 L469.0,261.01 L469.5,263.06 L470.0,264.96 L470.5,266.71 L471.0,268.32 L471.5,269.80 L472.0,271.14 L472.5,272.35 L473.0,273.44 L473.5,274.41 L474.0,275.27 L474.5,276.04 L475.0,276.70 L475.5,277.28 L476.0,277.77 L476.5,278.19 L477.0,278.54 L477.5,278.84 L478.0,279.07 L478.5,279.26 L479.0,279.40 L479.5,279.50 L480.0,279.57 L480.5,279.62 L481.0,279.64 L481.5,279.64 L482.0,279.62 L482.5,279.60 L483.0,279.57 L483.5,279.54 L484.0,279.50 L484.5,279.48 L485.0,279.46 L485.5,279.45 L486.0,279.46 L486.5,279.49 L487.0,279.54 L487.5,279.61 L488.0,279.72 L488.5,279.85 L489.0,280.03 L489.5,280.24 L490.0,280.48 L490.5,280.78 L491.0,281.11 L491.5,281.50 L492.0,281.93 L492.5,282.41 L493.0,282.94 L493.5,283.52 L494.0,284.15 L494.5,284.82 L495.0,285.55 L495.5,286.32 L496.0,287.14 L496.5,288.00 L497.0,288.91 L497.5,289.84 L498.0,290.82 L498.5,291.82 L499.0,292.85 L499.5,293.90 L500.0,294.97 L500.5,296.05 L501.0,297.15 L501.5,298.25 L502.0,299.35 L502.5,300.44 L503.0,301.53 L503.5,302.61 L504.0,303.68 L504.5,304.72 L505.0,305.74 L505.5,306.74 L506.0,307.71 L506.5,308.65 L507.0,309.56 L507.5,310.43 L508.0,311.27 L508.5,312.07 L509.0,312.83 L509.5,313.56 L510.0,314.24 L510.5,314.89 L511.0,315.50 L511.5,316.07 L512.0,316.60 L512.5,317.10 L513.0,317.57 L513.5,318.00 L514.0,318.39 L514.5,318.76 L515.0,319.09 L515.5,319.40 L516.0,319.68 L516.5,319.94 L517.0,320.17 L517.5,320.38 L518.0,320.57 L518.5,320.74 L519.0,320.89 L519.5,321.03 L520.0,321.15 L520.5,321.26 L521.0,321.35 L521.5,321.44 L522.0,321.51 L522.5,321.58 L523.0,321.64 L523.5,321.69" stroke="#f5d0a4" stroke-width="1.9"/>
<path d="M376.9,321.65 L377.4,321.59 L377.9,321.52 L378.4,321.44 L378.9,321.35 L379.4,321.24 L379.9,321.12 L380.4,320.99 L380.9,320.83 L381.4,320.66 L381.9,320.46 L382.4,320.24 L382.9,320.00 L383.4,319.72 L383.9,319.42 L384.4,319.08 L384.9,318.71 L385.4,318.30 L385.9,317.86 L386.4,317.37 L386.9,316.83 L387.4,316.26 L387.9,315.63 L388.4,314.96 L388.9,314.24 L389.4,313.46 L389.9,312.64 L390.4,311.76 L390.9,310.83 L391.4,309.85 L391.9,308.82 L392.4,307.74 L392.9,306.61 L393.4,305.44 L393.9,304.22 L394.4,302.97 L394.9,301.69 L395.4,300.37 L395.9,299.03 L396.4,297.67 L396.9,296.30 L397.4,294.92 L397.9,293.54 L398.4,292.16 L398.9,290.80 L399.4,289.45 L399.9,288.12 L400.4,286.83 L400.9,285.58 L401.4,284.36 L401.9,283.20 L402.4,282.08 L402.9,281.03 L403.4,280.03 L403.9,279.09 L404.4,278.22 L404.9,277.41 L405.4,276.67 L405.9,275.99 L406.4,275.38 L406.9,274.83 L407.4,274.33 L407.9,273.88 L408.4,273.49 L408.9,273.14 L409.4,272.82 L409.9,272.54 L410.4,272.28 L410.9,272.04 L411.4,271.81 L411.9,271.58 L412.4,271.36 L412.9,271.12 L413.4,270.88 L413.9,270.61 L414.4,270.32 L414.9,270.01 L415.4,269.67 L415.9,269.29 L416.4,268.89 L416.9,268.45 L417.4,267.97 L417.9,267.47 L418.4,266.93 L418.9,266.37 L419.4,265.78 L419.9,265.17 L420.4,264.55 L420.9,263.91 L421.4,263.26 L421.9,262.60 L422.4,261.95 L422.9,261.29 L423.4,260.64 L423.9,260.00 L424.4,259.36 L424.9,258.73 L425.4,258.11 L425.9,257.49 L426.4,256.88 L426.9,256.27 L427.4,255.66 L427.9,255.03 L428.4,254.39 L428.9,253.72 L429.4,253.03 L429.9,252.29 L430.4,251.51 L430.9,250.67 L431.4,249.76 L431.9,248.77 L432.4,247.70 L432.9,246.53 L433.4,245.27 L433.9,243.89 L434.4,242.40 L434.9,240.80 L435.4,239.07 L435.9,237.22 L436.4,235.25 L436.9,233.16 L437.4,230.96 L437.9,228.64 L438.4,226.22 L438.9,223.71 L439.4,221.12 L439.9,218.46 L440.4,215.74 L440.9,212.99 L441.4,210.21 L441.9,207.43 L442.4,204.67 L442.9,201.93 L443.4,199.26 L443.9,196.65 L444.4,194.14 L444.9,191.74 L445.4,189.48 L445.9,187.36 L446.4,185.41 L446.9,183.65 L447.4,182.08 L447.9,180.73 L448.4,179.60 L448.9,178.70 L449.4,178.05 L449.9,177.64 L450.4,177.49 L450.9,177.60 L451.4,177.96 L451.9,178.58 L452.4,179.45 L452.9,180.58 L453.4,181.95 L453.9,183.55 L454.4,185.38 L454.9,187.42 L455.4,189.67 L455.9,192.11 L456.4,194.72 L456.9,197.50 L457.4,200.42 L457.9,203.47 L458.4,206.64 L458.9,209.90 L459.4,213.24 L459.9,216.63 L460.4,220.08 L460.9,223.55 L461.4,227.02 L461.9,230.49 L462.4,233.94 L462.9,237.35 L463.4,240.71 L463.9,244.01 L464.4,247.22 L464.9,250.35 L465.4,253.38 L465.9,256.30 L466.4,259.10 L466.9,261.77 L467.4,264.32 L467.9,266.73 L468.4,269.01 L468.9,271.14 L469.4,273.14 L469.9,275.00 L470.4,276.72 L470.9,278.30 L471.4,279.76 L471.9,281.08 L472.4,282.29 L472.9,283.37 L473.4,284.35 L473.9,285.23 L474.4,286.01 L474.9,286.71 L475.4,287.32 L475.9,287.87 L476.4,288.35 L476.9,288.78 L477.4,289.15 L477.9,289.49 L478.4,289.80 L478.9,290.07 L479.4,290.33 L479.9,290.57 L480.4,290.80 L480.9,291.02 L481.4,291.24 L481.9,291.45 L482.4,291.67 L482.9,291.89 L483.4,292.12 L483.9,292.36 L484.4,292.60 L484.9,292.85 L485.4,293.10 L485.9,293.36 L486.4,293.63 L486.9,293.91 L487.4,294.18 L487.9,294.47 L488.4,294.75 L488.9,295.04 L489.4,295.34 L489.9,295.63 L490.4,295.93 L490.9,296.23 L491.4,296.54 L491.9,296.84 L492.4,297.16 L492.9,297.47 L493.4,297.79 L493.9,298.12 L494.4,298.46 L494.9,298.81 L495.4,299.16 L495.9,299.53 L496.4,299.92 L496.9,300.31 L497.4,300.72 L497.9,301.15 L498.4,301.59 L498.9,302.05 L499.4,302.53 L499.9,303.02 L500.4,303.53 L500.9,304.06 L501.4,304.60 L501.9,305.16 L502.4,305.73 L502.9,306.31 L503.4,306.89 L503.9,307.49 L504.4,308.09 L504.9,308.70 L505.4,309.31 L505.9,309.92 L506.4,310.52 L506.9,311.12 L507.4,311.72 L507.9,312.30 L508.4,312.87 L508.9,313.44 L509.4,313.98 L509.9,314.51 L510.4,315.03 L510.9,315.52 L511.4,316.00 L511.9,316.45 L512.4,316.88 L512.9,317.30 L513.4,317.69 L513.9,318.05 L514.4,318.40 L514.9,318.73 L515.4,319.03 L515.9,319.31 L516.4,319.57 L516.9,319.82 L517.4,320.04 L517.9,320.25 L518.4,320.43 L518.9,320.61 L519.4,320.76 L519.9,320.90 L520.4,321.03 L520.9,321.15 L521.4,321.25 L521.9,321.34 L522.4,321.43 L522.9,321.50 L523.4,321.57 L523.9,321.62 L524.4,321.68" stroke="#c6633d" stroke-width="2.2"/>
</g>
<clipPath id="cp2"><rect x="643.0" y="55.3" width="262.10" height="266.80"/></clipPath>
<g clip-path="url(#cp2)" fill="none" stroke-linejoin="round" stroke-linecap="butt">
<path d="M677.0,321.66 L677.5,321.60 L678.0,321.53 L678.5,321.45 L679.0,321.36 L679.5,321.25 L680.0,321.13 L680.5,320.99 L681.0,320.83 L681.5,320.66 L682.0,320.46 L682.5,320.24 L683.0,320.00 L683.5,319.72 L684.0,319.42 L684.5,319.09 L685.0,318.73 L685.5,318.34 L686.0,317.90 L686.5,317.44 L687.0,316.93 L687.5,316.39 L688.0,315.80 L688.5,315.18 L689.0,314.51 L689.5,313.80 L690.0,313.04 L690.5,312.24 L691.0,311.39 L691.5,310.50 L692.0,309.56 L692.5,308.58 L693.0,307.54 L693.5,306.46 L694.0,305.32 L694.5,304.13 L695.0,302.88 L695.5,301.57 L696.0,300.19 L696.5,298.75 L697.0,297.23 L697.5,295.63 L698.0,293.94 L698.5,292.16 L699.0,290.27 L699.5,288.28 L700.0,286.16 L700.5,283.91 L701.0,281.52 L701.5,278.98 L702.0,276.29 L702.5,273.43 L703.0,270.40 L703.5,267.18 L704.0,263.79 L704.5,260.21 L705.0,256.44 L705.5,252.49 L706.0,248.37 L706.5,244.07 L707.0,239.61 L707.5,235.01 L708.0,230.28 L708.5,225.44 L709.0,220.52 L709.5,215.55 L710.0,210.56 L710.5,205.58 L711.0,200.65 L711.5,195.80 L712.0,191.09 L712.5,186.54 L713.0,182.20 L713.5,178.11 L714.0,174.31 L714.5,170.84 L715.0,167.75 L715.5,165.05 L716.0,162.79 L716.5,160.99 L717.0,159.67 L717.5,158.85 L718.0,158.54 L718.5,158.76 L719.0,159.50 L719.5,160.76 L720.0,162.52 L720.5,164.79 L721.0,167.52 L721.5,170.71 L722.0,174.32 L722.5,178.31 L723.0,182.66 L723.5,187.31 L724.0,192.23 L724.5,197.38 L725.0,202.71 L725.5,208.17 L726.0,213.72 L726.5,219.31 L727.0,224.91 L727.5,230.47 L728.0,235.96 L728.5,241.33 L729.0,246.56 L729.5,251.61 L730.0,256.46 L730.5,261.08 L731.0,265.46 L731.5,269.58 L732.0,273.43 L732.5,277.00 L733.0,280.29 L733.5,283.28 L734.0,285.99 L734.5,288.41 L735.0,290.55 L735.5,292.42 L736.0,294.02 L736.5,295.37 L737.0,296.48 L737.5,297.35 L738.0,298.00 L738.5,298.46 L739.0,298.72 L739.5,298.80 L740.0,298.73 L740.5,298.50 L741.0,298.14 L741.5,297.66 L742.0,297.07 L742.5,296.37 L743.0,295.59 L743.5,294.72 L744.0,293.78 L744.5,292.78 L745.0,291.72 L745.5,290.60 L746.0,289.44 L746.5,288.23 L747.0,286.97 L747.5,285.68 L748.0,284.34 L748.5,282.97 L749.0,281.55 L749.5,280.09 L750.0,278.59 L750.5,277.05 L751.0,275.46 L751.5,273.82 L752.0,272.13 L752.5,270.38 L753.0,268.59 L753.5,266.74 L754.0,264.83 L754.5,262.87 L755.0,260.85 L755.5,258.78 L756.0,256.66 L756.5,254.48 L757.0,252.26 L757.5,250.00 L758.0,247.71 L758.5,245.39 L759.0,243.04 L759.5,240.69 L760.0,238.34 L760.5,236.00 L761.0,233.68 L761.5,231.39 L762.0,229.16 L762.5,227.00 L763.0,224.91 L763.5,222.93 L764.0,221.05 L764.5,219.31 L765.0,217.71 L765.5,216.28 L766.0,215.03 L766.5,213.97 L767.0,213.12 L767.5,212.49 L768.0,212.10 L768.5,211.95 L769.0,212.05 L769.5,212.40 L770.0,213.02 L770.5,213.91 L771.0,215.05 L771.5,216.46 L772.0,218.12 L772.5,220.03 L773.0,222.18 L773.5,224.55 L774.0,227.13 L774.5,229.91 L775.0,232.86 L775.5,235.97 L776.0,239.22 L776.5,242.58 L777.0,246.04 L777.5,249.56 L778.0,253.14 L778.5,256.74 L779.0,260.34 L779.5,263.93 L780.0,267.48 L780.5,270.98 L781.0,274.41 L781.5,277.75 L782.0,280.98 L782.5,284.11 L783.0,287.11 L783.5,289.97 L784.0,292.70 L784.5,295.29 L785.0,297.72 L785.5,300.01 L786.0,302.15 L786.5,304.14 L787.0,305.98 L787.5,307.68 L788.0,309.25 L788.5,310.68 L789.0,311.98 L789.5,313.17 L790.0,314.24 L790.5,315.20 L791.0,316.07 L791.5,316.84 L792.0,317.52 L792.5,318.13 L793.0,318.67 L793.5,319.14 L794.0,319.56 L794.5,319.92 L795.0,320.23 L795.5,320.50 L796.0,320.74 L796.5,320.94 L797.0,321.11 L797.5,321.26 L798.0,321.38 L798.5,321.49 L799.0,321.58 L799.5,321.65" stroke="#8fcae6" stroke-width="1.9"/>
<path d="M677.8,321.70 L678.3,321.65 L678.8,321.59 L679.3,321.52 L679.8,321.44 L680.3,321.34 L680.8,321.24 L681.3,321.12 L681.8,320.99 L682.3,320.84 L682.8,320.67 L683.3,320.49 L683.8,320.28 L684.3,320.04 L684.8,319.79 L685.3,319.50 L685.8,319.19 L686.3,318.84 L686.8,318.46 L687.3,318.05 L687.8,317.59 L688.3,317.10 L688.8,316.57 L689.3,315.99 L689.8,315.37 L690.3,314.70 L690.8,313.98 L691.3,313.21 L691.8,312.38 L692.3,311.50 L692.8,310.56 L693.3,309.56 L693.8,308.49 L694.3,307.36 L694.8,306.15 L695.3,304.88 L695.8,303.52 L696.3,302.09 L696.8,300.58 L697.3,298.98 L697.8,297.28 L698.3,295.49 L698.8,293.60 L699.3,291.61 L699.8,289.50 L700.3,287.28 L700.8,284.94 L701.3,282.48 L701.8,279.88 L702.3,277.15 L702.8,274.29 L703.3,271.28 L703.8,268.14 L704.3,264.85 L704.8,261.42 L705.3,257.86 L705.8,254.16 L706.3,250.33 L706.8,246.37 L707.3,242.31 L707.8,238.14 L708.3,233.89 L708.8,229.57 L709.3,225.19 L709.8,220.78 L710.3,216.36 L710.8,211.96 L711.3,207.60 L711.8,203.31 L712.3,199.12 L712.8,195.05 L713.3,191.14 L713.8,187.43 L714.3,183.93 L714.8,180.69 L715.3,177.73 L715.8,175.07 L716.3,172.75 L716.8,170.78 L717.3,169.20 L717.8,168.00 L718.3,167.22 L718.8,166.86 L719.3,166.93 L719.8,167.43 L720.3,168.36 L720.8,169.71 L721.3,171.49 L721.8,173.67 L722.3,176.24 L722.8,179.18 L723.3,182.46 L723.8,186.07 L724.3,189.97 L724.8,194.14 L725.3,198.53 L725.8,203.12 L726.3,207.88 L726.8,212.76 L727.3,217.74 L727.8,222.78 L728.3,227.85 L728.8,232.92 L729.3,237.95 L729.8,242.91 L730.3,247.79 L730.8,252.56 L731.3,257.18 L731.8,261.66 L732.3,265.96 L732.8,270.07 L733.3,273.99 L733.8,277.69 L734.3,281.18 L734.8,284.45 L735.3,287.50 L735.8,290.32 L736.3,292.92 L736.8,295.30 L737.3,297.47 L737.8,299.42 L738.3,301.16 L738.8,302.71 L739.3,304.07 L739.8,305.24 L740.3,306.24 L740.8,307.07 L741.3,307.74 L741.8,308.26 L742.3,308.63 L742.8,308.88 L743.3,308.99 L743.8,308.98 L744.3,308.86 L744.8,308.62 L745.3,308.28 L745.8,307.85 L746.3,307.31 L746.8,306.69 L747.3,305.97 L747.8,305.17 L748.3,304.29 L748.8,303.32 L749.3,302.27 L749.8,301.14 L750.3,299.93 L750.8,298.65 L751.3,297.28 L751.8,295.83 L752.3,294.29 L752.8,292.68 L753.3,290.98 L753.8,289.20 L754.3,287.34 L754.8,285.38 L755.3,283.34 L755.8,281.21 L756.3,278.99 L756.8,276.68 L757.3,274.28 L757.8,271.79 L758.3,269.21 L758.8,266.55 L759.3,263.80 L759.8,260.97 L760.3,258.07 L760.8,255.09 L761.3,252.06 L761.8,248.97 L762.3,245.84 L762.8,242.67 L763.3,239.48 L763.8,236.29 L764.3,233.10 L764.8,229.93 L765.3,226.81 L765.8,223.75 L766.3,220.77 L766.8,217.88 L767.3,215.12 L767.8,212.50 L768.3,210.04 L768.8,207.77 L769.3,205.70 L769.8,203.85 L770.3,202.24 L770.8,200.90 L771.3,199.82 L771.8,199.04 L772.3,198.55 L772.8,198.37 L773.3,198.51 L773.8,198.96 L774.3,199.73 L774.8,200.81 L775.3,202.21 L775.8,203.91 L776.3,205.91 L776.8,208.18 L777.3,210.72 L777.8,213.51 L778.3,216.53 L778.8,219.76 L779.3,223.17 L779.8,226.74 L780.3,230.45 L780.8,234.27 L781.3,238.17 L781.8,242.14 L782.3,246.14 L782.8,250.15 L783.3,254.16 L783.8,258.13 L784.3,262.05 L784.8,265.89 L785.3,269.65 L785.8,273.30 L786.3,276.83 L786.8,280.23 L787.3,283.50 L787.8,286.61 L788.3,289.57 L788.8,292.37 L789.3,295.02 L789.8,297.50 L790.3,299.82 L790.8,301.98 L791.3,303.99 L791.8,305.84 L792.3,307.55 L792.8,309.12 L793.3,310.55 L793.8,311.86 L794.3,313.04 L794.8,314.11 L795.3,315.07 L795.8,315.93 L796.3,316.71 L796.8,317.39 L797.3,318.01 L797.8,318.55 L798.3,319.02 L798.8,319.44 L799.3,319.81 L799.8,320.13 L800.3,320.41 L800.8,320.65 L801.3,320.85 L801.8,321.03 L802.3,321.19 L802.8,321.32 L803.3,321.43 L803.8,321.53 L804.3,321.61 L804.8,321.67" stroke="#4f8ab4" stroke-width="2.2"/>
<path d="M660.7,321.65 L661.2,321.62 L661.7,321.58 L662.2,321.55 L662.7,321.50 L663.2,321.46 L663.7,321.41 L664.2,321.36 L664.7,321.31 L665.2,321.25 L665.7,321.18 L666.2,321.12 L666.7,321.04 L667.2,320.97 L667.7,320.88 L668.2,320.80 L668.7,320.70 L669.2,320.60 L669.7,320.49 L670.2,320.38 L670.7,320.26 L671.2,320.13 L671.7,320.00 L672.2,319.85 L672.7,319.70 L673.2,319.54 L673.7,319.37 L674.2,319.19 L674.7,319.01 L675.2,318.81 L675.7,318.60 L676.2,318.38 L676.7,318.15 L677.2,317.90 L677.7,317.65 L678.2,317.38 L678.7,317.10 L679.2,316.80 L679.7,316.49 L680.2,316.17 L680.7,315.83 L681.2,315.48 L681.7,315.11 L682.2,314.73 L682.7,314.33 L683.2,313.91 L683.7,313.47 L684.2,313.02 L684.7,312.55 L685.2,312.06 L685.7,311.55 L686.2,311.02 L686.7,310.47 L687.2,309.90 L687.7,309.31 L688.2,308.70 L688.7,308.07 L689.2,307.41 L689.7,306.73 L690.2,306.03 L690.7,305.31 L691.2,304.57 L691.7,303.80 L692.2,303.01 L692.7,302.19 L693.2,301.35 L693.7,300.49 L694.2,299.60 L694.7,298.69 L695.2,297.76 L695.7,296.81 L696.2,295.83 L696.7,294.83 L697.2,293.81 L697.7,292.77 L698.2,291.71 L698.7,290.62 L699.2,289.52 L699.7,288.41 L700.2,287.27 L700.7,286.12 L701.2,284.96 L701.7,283.78 L702.2,282.59 L702.7,281.39 L703.2,280.18 L703.7,278.97 L704.2,277.75 L704.7,276.53 L705.2,275.31 L705.7,274.09 L706.2,272.88 L706.7,271.67 L707.2,270.47 L707.7,269.28 L708.2,268.10 L708.7,266.94 L709.2,265.80 L709.7,264.67 L710.2,263.58 L710.7,262.50 L711.2,261.46 L711.7,260.45 L712.2,259.46 L712.7,258.52 L713.2,257.61 L713.7,256.75 L714.2,255.92 L714.7,255.14 L715.2,254.41 L715.7,253.72 L716.2,253.09 L716.7,252.50 L717.2,251.97 L717.7,251.50 L718.2,251.07 L718.7,250.71 L719.2,250.40 L719.7,250.14 L720.2,249.95 L720.7,249.81 L721.2,249.73 L721.7,249.71 L722.2,249.74 L722.7,249.84 L723.2,249.98 L723.7,250.18 L724.2,250.44 L724.7,250.74 L725.2,251.10 L725.7,251.50 L726.2,251.96 L726.7,252.46 L727.2,253.00 L727.7,253.58 L728.2,254.20 L728.7,254.86 L729.2,255.56 L729.7,256.28 L730.2,257.04 L730.7,257.82 L731.2,258.63 L731.7,259.46 L732.2,260.31 L732.7,261.17 L733.2,262.06 L733.7,262.95 L734.2,263.86 L734.7,264.77 L735.2,265.69 L735.7,266.62 L736.2,267.54 L736.7,268.47 L737.2,269.40 L737.7,270.32 L738.2,271.25 L738.7,272.16 L739.2,273.07 L739.7,273.97 L740.2,274.86 L740.7,275.75 L741.2,276.62 L741.7,277.48 L742.2,278.33 L742.7,279.17 L743.2,279.99 L743.7,280.81 L744.2,281.61 L744.7,282.39 L745.2,283.17 L745.7,283.93 L746.2,284.68 L746.7,285.42 L747.2,286.14 L747.7,286.85 L748.2,287.56 L748.7,288.24 L749.2,288.92 L749.7,289.59 L750.2,290.25 L750.7,290.89 L751.2,291.53 L751.7,292.15 L752.2,292.77 L752.7,293.37 L753.2,293.97 L753.7,294.56 L754.2,295.14 L754.7,295.70 L755.2,296.26 L755.7,296.81 L756.2,297.36 L756.7,297.89 L757.2,298.41 L757.7,298.92 L758.2,299.43 L758.7,299.92 L759.2,300.40 L759.7,300.87 L760.2,301.34 L760.7,301.79 L761.2,302.22 L761.7,302.65 L762.2,303.07 L762.7,303.47 L763.2,303.86 L763.7,304.24 L764.2,304.60 L764.7,304.95 L765.2,305.29 L765.7,305.61 L766.2,305.92 L766.7,306.22 L767.2,306.49 L767.7,306.76 L768.2,307.01 L768.7,307.24 L769.2,307.46 L769.7,307.67 L770.2,307.86 L770.7,308.03 L771.2,308.19 L771.7,308.33 L772.2,308.46 L772.7,308.57 L773.2,308.67 L773.7,308.76 L774.2,308.83 L774.7,308.88 L775.2,308.93 L775.7,308.96 L776.2,308.97 L776.7,308.97 L777.2,308.96 L777.7,308.94 L778.2,308.90 L778.7,308.85 L779.2,308.79 L779.7,308.71 L780.2,308.63 L780.7,308.53 L781.2,308.42 L781.7,308.30 L782.2,308.17 L782.7,308.03 L783.2,307.87 L783.7,307.71 L784.2,307.53 L784.7,307.35 L785.2,307.15 L785.7,306.94 L786.2,306.72 L786.7,306.48 L787.2,306.24 L787.7,305.98 L788.2,305.72 L788.7,305.44 L789.2,305.14 L789.7,304.84 L790.2,304.52 L790.7,304.19 L791.2,303.85 L791.7,303.49 L792.2,303.12 L792.7,302.74 L793.2,302.34 L793.7,301.93 L794.2,301.50 L794.7,301.06 L795.2,300.60 L795.7,300.13 L796.2,299.64 L796.7,299.13 L797.2,298.61 L797.7,298.08 L798.2,297.53 L798.7,296.96 L799.2,296.37 L799.7,295.77 L800.2,295.16 L800.7,294.52 L801.2,293.87 L801.7,293.21 L802.2,292.52 L802.7,291.83 L803.2,291.11 L803.7,290.38 L804.2,289.63 L804.7,288.87 L805.2,288.10 L805.7,287.30 L806.2,286.50 L806.7,285.68 L807.2,284.84 L807.7,284.00 L808.2,283.14 L808.7,282.27 L809.2,281.38 L809.7,280.49 L810.2,279.58 L810.7,278.67 L811.2,277.74 L811.7,276.81 L812.2,275.88 L812.7,274.93 L813.2,273.99 L813.7,273.03 L814.2,272.08 L814.7,271.12 L815.2,270.17 L815.7,269.22 L816.2,268.27 L816.7,267.32 L817.2,266.38 L817.7,265.45 L818.2,264.53 L818.7,263.62 L819.2,262.72 L819.7,261.84 L820.2,260.98 L820.7,260.13 L821.2,259.31 L821.7,258.51 L822.2,257.74 L822.7,256.99 L823.2,256.27 L823.7,255.58 L824.2,254.93 L824.7,254.32 L825.2,253.74 L825.7,253.20 L826.2,252.70 L826.7,252.25 L827.2,251.84 L827.7,251.48 L828.2,251.17 L828.7,250.91 L829.2,250.70 L829.7,250.55 L830.2,250.45 L830.7,250.41 L831.2,250.42 L831.7,250.49 L832.2,250.62 L832.7,250.80 L833.2,251.05 L833.7,251.35 L834.2,251.72 L834.7,252.14 L835.2,252.62 L835.7,253.15 L836.2,253.75 L836.7,254.40 L837.2,255.10 L837.7,255.86 L838.2,256.67 L838.7,257.53 L839.2,258.44 L839.7,259.39 L840.2,260.39 L840.7,261.43 L841.2,262.51 L841.7,263.63 L842.2,264.78 L842.7,265.97 L843.2,267.18 L843.7,268.42 L844.2,269.69 L844.7,270.98 L845.2,272.28 L845.7,273.60 L846.2,274.94 L846.7,276.28 L847.2,277.63 L847.7,278.98 L848.2,280.34 L848.7,281.70 L849.2,283.05 L849.7,284.39 L850.2,285.73 L850.7,287.05 L851.2,288.37 L851.7,289.66 L852.2,290.94 L852.7,292.20 L853.2,293.44 L853.7,294.66 L854.2,295.85 L854.7,297.02 L855.2,298.16 L855.7,299.28 L856.2,300.36 L856.7,301.42 L857.2,302.44 L857.7,303.43 L858.2,304.39 L858.7,305.32 L859.2,306.22 L859.7,307.09 L860.2,307.92 L860.7,308.72 L861.2,309.49 L861.7,310.23 L862.2,310.93 L862.7,311.61 L863.2,312.25 L863.7,312.87 L864.2,313.45 L864.7,314.01 L865.2,314.54 L865.7,315.04 L866.2,315.51 L866.7,315.96 L867.2,316.38 L867.7,316.78 L868.2,317.16 L868.7,317.51 L869.2,317.85 L869.7,318.16 L870.2,318.45 L870.7,318.73 L871.2,318.98 L871.7,319.22 L872.2,319.44 L872.7,319.65 L873.2,319.85 L873.7,320.03 L874.2,320.19 L874.7,320.35 L875.2,320.49 L875.7,320.62 L876.2,320.74 L876.7,320.85 L877.2,320.96 L877.7,321.05 L878.2,321.14 L878.7,321.22 L879.2,321.29 L879.7,321.36 L880.2,321.42 L880.7,321.48 L881.2,321.53 L881.7,321.58 L882.2,321.62 L882.7,321.66" stroke="#ffc7c9" stroke-width="1.9"/>
<path d="M655.3,321.68 L655.8,321.64 L656.3,321.61 L656.8,321.57 L657.3,321.53 L657.8,321.49 L658.3,321.44 L658.8,321.39 L659.3,321.34 L659.8,321.28 L660.3,321.22 L660.8,321.15 L661.3,321.08 L661.8,321.01 L662.3,320.92 L662.8,320.84 L663.3,320.74 L663.8,320.64 L664.3,320.54 L664.8,320.43 L665.3,320.31 L665.8,320.18 L666.3,320.05 L666.8,319.91 L667.3,319.76 L667.8,319.60 L668.3,319.43 L668.8,319.26 L669.3,319.07 L669.8,318.88 L670.3,318.67 L670.8,318.46 L671.3,318.23 L671.8,318.00 L672.3,317.75 L672.8,317.49 L673.3,317.22 L673.8,316.94 L674.3,316.64 L674.8,316.34 L675.3,316.02 L675.8,315.69 L676.3,315.34 L676.8,314.98 L677.3,314.61 L677.8,314.23 L678.3,313.83 L678.8,313.41 L679.3,312.98 L679.8,312.54 L680.3,312.08 L680.8,311.60 L681.3,311.11 L681.8,310.61 L682.3,310.09 L682.8,309.55 L683.3,308.99 L683.8,308.42 L684.3,307.83 L684.8,307.22 L685.3,306.60 L685.8,305.96 L686.3,305.30 L686.8,304.62 L687.3,303.92 L687.8,303.20 L688.3,302.47 L688.8,301.71 L689.3,300.93 L689.8,300.14 L690.3,299.32 L690.8,298.49 L691.3,297.63 L691.8,296.75 L692.3,295.85 L692.8,294.93 L693.3,293.99 L693.8,293.02 L694.3,292.04 L694.8,291.04 L695.3,290.01 L695.8,288.96 L696.3,287.90 L696.8,286.81 L697.3,285.70 L697.8,284.58 L698.3,283.43 L698.8,282.27 L699.3,281.10 L699.8,279.90 L700.3,278.69 L700.8,277.47 L701.3,276.24 L701.8,274.99 L702.3,273.74 L702.8,272.48 L703.3,271.21 L703.8,269.94 L704.3,268.66 L704.8,267.39 L705.3,266.12 L705.8,264.85 L706.3,263.59 L706.8,262.34 L707.3,261.10 L707.8,259.88 L708.3,258.67 L708.8,257.49 L709.3,256.32 L709.8,255.19 L710.3,254.08 L710.8,253.00 L711.3,251.96 L711.8,250.95 L712.3,249.98 L712.8,249.06 L713.3,248.18 L713.8,247.35 L714.3,246.57 L714.8,245.84 L715.3,245.16 L715.8,244.54 L716.3,243.98 L716.8,243.48 L717.3,243.04 L717.8,242.67 L718.3,242.36 L718.8,242.11 L719.3,241.94 L719.8,241.82 L720.3,241.78 L720.8,241.80 L721.3,241.89 L721.8,242.04 L722.3,242.26 L722.8,242.55 L723.3,242.90 L723.8,243.32 L724.3,243.79 L724.8,244.33 L725.3,244.93 L725.8,245.58 L726.3,246.29 L726.8,247.04 L727.3,247.85 L727.8,248.71 L728.3,249.61 L728.8,250.55 L729.3,251.54 L729.8,252.56 L730.3,253.61 L730.8,254.69 L731.3,255.80 L731.8,256.94 L732.3,258.09 L732.8,259.27 L733.3,260.46 L733.8,261.66 L734.3,262.88 L734.8,264.10 L735.3,265.33 L735.8,266.56 L736.3,267.79 L736.8,269.01 L737.3,270.23 L737.8,271.45 L738.3,272.66 L738.8,273.86 L739.3,275.04 L739.8,276.21 L740.3,277.37 L740.8,278.51 L741.3,279.64 L741.8,280.74 L742.3,281.83 L742.8,282.90 L743.3,283.95 L743.8,284.98 L744.3,285.99 L744.8,286.97 L745.3,287.94 L745.8,288.88 L746.3,289.80 L746.8,290.71 L747.3,291.59 L747.8,292.45 L748.3,293.29 L748.8,294.11 L749.3,294.91 L749.8,295.70 L750.3,296.46 L750.8,297.21 L751.3,297.94 L751.8,298.65 L752.3,299.34 L752.8,300.02 L753.3,300.69 L753.8,301.33 L754.3,301.97 L754.8,302.59 L755.3,303.19 L755.8,303.78 L756.3,304.36 L756.8,304.93 L757.3,305.48 L757.8,306.02 L758.3,306.54 L758.8,307.06 L759.3,307.56 L759.8,308.05 L760.3,308.53 L760.8,309.00 L761.3,309.46 L761.8,309.90 L762.3,310.33 L762.8,310.75 L763.3,311.16 L763.8,311.56 L764.3,311.94 L764.8,312.32 L765.3,312.68 L765.8,313.03 L766.3,313.36 L766.8,313.68 L767.3,314.00 L767.8,314.29 L768.3,314.58 L768.8,314.85 L769.3,315.11 L769.8,315.36 L770.3,315.59 L770.8,315.81 L771.3,316.02 L771.8,316.21 L772.3,316.39 L772.8,316.56 L773.3,316.71 L773.8,316.85 L774.3,316.97 L774.8,317.08 L775.3,317.18 L775.8,317.26 L776.3,317.33 L776.8,317.39 L777.3,317.43 L777.8,317.46 L778.3,317.47 L778.8,317.47 L779.3,317.46 L779.8,317.43 L780.3,317.39 L780.8,317.33 L781.3,317.26 L781.8,317.18 L782.3,317.08 L782.8,316.97 L783.3,316.85 L783.8,316.71 L784.3,316.56 L784.8,316.39 L785.3,316.21 L785.8,316.01 L786.3,315.80 L786.8,315.58 L787.3,315.34 L787.8,315.09 L788.3,314.83 L788.8,314.55 L789.3,314.25 L789.8,313.95 L790.3,313.62 L790.8,313.28 L791.3,312.93 L791.8,312.56 L792.3,312.18 L792.8,311.79 L793.3,311.37 L793.8,310.95 L794.3,310.51 L794.8,310.05 L795.3,309.58 L795.8,309.09 L796.3,308.59 L796.8,308.07 L797.3,307.54 L797.8,307.00 L798.3,306.44 L798.8,305.86 L799.3,305.27 L799.8,304.67 L800.3,304.05 L800.8,303.41 L801.3,302.76 L801.8,302.10 L802.3,301.43 L802.8,300.74 L803.3,300.03 L803.8,299.31 L804.3,298.58 L804.8,297.84 L805.3,297.09 L805.8,296.32 L806.3,295.54 L806.8,294.74 L807.3,293.94 L807.8,293.13 L808.3,292.30 L808.8,291.47 L809.3,290.62 L809.8,289.77 L810.3,288.90 L810.8,288.03 L811.3,287.15 L811.8,286.26 L812.3,285.37 L812.8,284.47 L813.3,283.56 L813.8,282.65 L814.3,281.73 L814.8,280.81 L815.3,279.89 L815.8,278.96 L816.3,278.04 L816.8,277.11 L817.3,276.19 L817.8,275.26 L818.3,274.34 L818.8,273.42 L819.3,272.51 L819.8,271.60 L820.3,270.70 L820.8,269.80 L821.3,268.92 L821.8,268.04 L822.3,267.18 L822.8,266.33 L823.3,265.49 L823.8,264.67 L824.3,263.87 L824.8,263.08 L825.3,262.32 L825.8,261.57 L826.3,260.85 L826.8,260.15 L827.3,259.48 L827.8,258.83 L828.3,258.21 L828.8,257.63 L829.3,257.07 L829.8,256.55 L830.3,256.06 L830.8,255.60 L831.3,255.19 L831.8,254.81 L832.3,254.47 L832.8,254.17 L833.3,253.91 L833.8,253.70 L834.3,253.53 L834.8,253.40 L835.3,253.32 L835.8,253.28 L836.3,253.30 L836.8,253.35 L837.3,253.46 L837.8,253.61 L838.3,253.81 L838.8,254.06 L839.3,254.36 L839.8,254.71 L840.3,255.10 L840.8,255.54 L841.3,256.03 L841.8,256.56 L842.3,257.14 L842.8,257.76 L843.3,258.43 L843.8,259.14 L844.3,259.89 L844.8,260.68 L845.3,261.51 L845.8,262.37 L846.3,263.28 L846.8,264.21 L847.3,265.18 L847.8,266.18 L848.3,267.20 L848.8,268.26 L849.3,269.34 L849.8,270.44 L850.3,271.56 L850.8,272.70 L851.3,273.85 L851.8,275.02 L852.3,276.20 L852.8,277.39 L853.3,278.59 L853.8,279.80 L854.3,281.00 L854.8,282.21 L855.3,283.42 L855.8,284.63 L856.3,285.83 L856.8,287.02 L857.3,288.21 L857.8,289.39 L858.3,290.55 L858.8,291.70 L859.3,292.84 L859.8,293.96 L860.3,295.07 L860.8,296.15 L861.3,297.22 L861.8,298.26 L862.3,299.28 L862.8,300.28 L863.3,301.25 L863.8,302.20 L864.3,303.13 L864.8,304.03 L865.3,304.90 L865.8,305.75 L866.3,306.57 L866.8,307.36 L867.3,308.13 L867.8,308.86 L868.3,309.58 L868.8,310.26 L869.3,310.92 L869.8,311.55 L870.3,312.16 L870.8,312.74 L871.3,313.29 L871.8,313.82 L872.3,314.33 L872.8,314.81 L873.3,315.27 L873.8,315.70 L874.3,316.12 L874.8,316.51 L875.3,316.88 L875.8,317.23 L876.3,317.56 L876.8,317.87 L877.3,318.17 L877.8,318.45 L878.3,318.71 L878.8,318.95 L879.3,319.18 L879.8,319.40 L880.3,319.60 L880.8,319.78 L881.3,319.96 L881.8,320.12 L882.3,320.27 L882.8,320.42 L883.3,320.55 L883.8,320.67 L884.3,320.78 L884.8,320.89 L885.3,320.98 L885.8,321.07 L886.3,321.16 L886.8,321.23 L887.3,321.30 L887.8,321.37 L888.3,321.42 L888.8,321.48 L889.3,321.53 L889.8,321.57 L890.3,321.61 L890.8,321.65" stroke="#f0849a" stroke-width="2.2"/>
</g>
<clipPath id="cp3"><rect x="936.2" y="55.3" width="262.50" height="266.80"/></clipPath>
<g clip-path="url(#cp3)" fill="none" stroke-linejoin="round" stroke-linecap="butt">
<path d="M956.9,321.67 L957.4,321.59 L957.9,321.49 L958.4,321.37 L958.9,321.22 L959.4,321.05 L959.9,320.84 L960.4,320.59 L960.9,320.30 L961.4,319.96 L961.9,319.56 L962.4,319.11 L962.9,318.58 L963.4,317.98 L963.9,317.29 L964.4,316.52 L964.9,315.64 L965.4,314.66 L965.9,313.56 L966.4,312.33 L966.9,310.98 L967.4,309.48 L967.9,307.83 L968.4,306.02 L968.9,304.05 L969.4,301.89 L969.9,299.56 L970.4,297.02 L970.9,294.29 L971.4,291.34 L971.9,288.18 L972.4,284.79 L972.9,281.18 L973.4,277.33 L973.9,273.25 L974.4,268.94 L974.9,264.40 L975.4,259.64 L975.9,254.67 L976.4,249.50 L976.9,244.16 L977.4,238.68 L977.9,233.06 L978.4,227.36 L978.9,221.61 L979.4,215.84 L979.9,210.09 L980.4,204.42 L980.9,198.85 L981.4,193.43 L981.9,188.21 L982.4,183.20 L982.9,178.44 L983.4,173.95 L983.9,169.74 L984.4,165.82 L984.9,162.19 L985.4,158.83 L985.9,155.72 L986.4,152.84 L986.9,150.16 L987.4,147.63 L987.9,145.22 L988.4,142.89 L988.9,140.61 L989.4,138.33 L989.9,136.03 L990.4,133.70 L990.9,131.32 L991.4,128.90 L991.9,126.46 L992.4,124.03 L992.9,121.63 L993.4,119.34 L993.9,117.19 L994.4,115.26 L994.9,113.63 L995.4,112.36 L995.9,111.53 L996.4,111.20 L996.9,111.44 L997.4,112.29 L997.9,113.80 L998.4,115.98 L998.9,118.85 L999.4,122.40 L999.9,126.59 L1000.4,131.40 L1000.9,136.76 L1001.4,142.60 L1001.9,148.85 L1002.4,155.40 L1002.9,162.17 L1003.4,169.04 L1003.9,175.93 L1004.4,182.73 L1004.9,189.36 L1005.4,195.72 L1005.9,201.74 L1006.4,207.36 L1006.9,212.54 L1007.4,217.23 L1007.9,221.41 L1008.4,225.08 L1008.9,228.25 L1009.4,230.92 L1009.9,233.13 L1010.4,234.92 L1010.9,236.32 L1011.4,237.39 L1011.9,238.19 L1012.4,238.75 L1012.9,239.15 L1013.4,239.42 L1013.9,239.63 L1014.4,239.81 L1014.9,240.01 L1015.4,240.26 L1015.9,240.58 L1016.4,241.01 L1016.9,241.55 L1017.4,242.23 L1017.9,243.05 L1018.4,244.00 L1018.9,245.11 L1019.4,246.35 L1019.9,247.73 L1020.4,249.24 L1020.9,250.88 L1021.4,252.63 L1021.9,254.49 L1022.4,256.45 L1022.9,258.50 L1023.4,260.64 L1023.9,262.86 L1024.4,265.15 L1024.9,267.50 L1025.4,269.91 L1025.9,272.36 L1026.4,274.85 L1026.9,277.36 L1027.4,279.89 L1027.9,282.41 L1028.4,284.93 L1028.9,287.42 L1029.4,289.88 L1029.9,292.29 L1030.4,294.64 L1030.9,296.92 L1031.4,299.11 L1031.9,301.22 L1032.4,303.22 L1032.9,305.11 L1033.4,306.88 L1033.9,308.54 L1034.4,310.08 L1034.9,311.50 L1035.4,312.80 L1035.9,313.98 L1036.4,315.05 L1036.9,316.01 L1037.4,316.87 L1037.9,317.62 L1038.4,318.29 L1038.9,318.87 L1039.4,319.38 L1039.9,319.82 L1040.4,320.19 L1040.9,320.51 L1041.4,320.78 L1041.9,321.00 L1042.4,321.19 L1042.9,321.35 L1043.4,321.48 L1043.9,321.59 L1044.4,321.67" stroke="#8fcae6" stroke-width="1.9"/>
<path d="M957.0,321.71 L957.5,321.62 L958.0,321.51 L958.5,321.38 L959.0,321.21 L959.5,321.00 L960.0,320.75 L960.5,320.45 L961.0,320.10 L961.5,319.67 L962.0,319.18 L962.5,318.60 L963.0,317.93 L963.5,317.17 L964.0,316.30 L964.5,315.32 L965.0,314.23 L965.5,313.01 L966.0,311.67 L966.5,310.20 L967.0,308.60 L967.5,306.87 L968.0,305.00 L968.5,303.00 L969.0,300.87 L969.5,298.60 L970.0,296.21 L970.5,293.69 L971.0,291.05 L971.5,288.28 L972.0,285.40 L972.5,282.41 L973.0,279.32 L973.5,276.14 L974.0,272.87 L974.5,269.53 L975.0,266.14 L975.5,262.72 L976.0,259.30 L976.5,255.88 L977.0,252.50 L977.5,249.20 L978.0,245.99 L978.5,242.90 L979.0,239.96 L979.5,237.18 L980.0,234.60 L980.5,232.21 L981.0,230.03 L981.5,228.04 L982.0,226.24 L982.5,224.62 L983.0,223.14 L983.5,221.77 L984.0,220.48 L984.5,219.22 L985.0,217.95 L985.5,216.62 L986.0,215.18 L986.5,213.61 L987.0,211.86 L987.5,209.92 L988.0,207.75 L988.5,205.35 L989.0,202.73 L989.5,199.88 L990.0,196.84 L990.5,193.62 L991.0,190.25 L991.5,186.77 L992.0,183.21 L992.5,179.59 L993.0,175.96 L993.5,172.33 L994.0,168.73 L994.5,165.17 L995.0,161.65 L995.5,158.20 L996.0,154.81 L996.5,151.49 L997.0,148.24 L997.5,145.09 L998.0,142.06 L998.5,139.17 L999.0,136.48 L999.5,134.03 L1000.0,131.88 L1000.5,130.11 L1001.0,128.79 L1001.5,127.99 L1002.0,127.79 L1002.5,128.26 L1003.0,129.45 L1003.5,131.40 L1004.0,134.14 L1004.5,137.65 L1005.0,141.93 L1005.5,146.93 L1006.0,152.58 L1006.5,158.80 L1007.0,165.48 L1007.5,172.51 L1008.0,179.77 L1008.5,187.14 L1009.0,194.50 L1009.5,201.72 L1010.0,208.72 L1010.5,215.38 L1011.0,221.65 L1011.5,227.47 L1012.0,232.78 L1012.5,237.59 L1013.0,241.87 L1013.5,245.65 L1014.0,248.93 L1014.5,251.75 L1015.0,254.16 L1015.5,256.18 L1016.0,257.87 L1016.5,259.26 L1017.0,260.41 L1017.5,261.33 L1018.0,262.07 L1018.5,262.66 L1019.0,263.12 L1019.5,263.48 L1020.0,263.73 L1020.5,263.91 L1021.0,264.02 L1021.5,264.06 L1022.0,264.05 L1022.5,263.98 L1023.0,263.87 L1023.5,263.72 L1024.0,263.53 L1024.5,263.31 L1025.0,263.06 L1025.5,262.80 L1026.0,262.53 L1026.5,262.27 L1027.0,262.01 L1027.5,261.79 L1028.0,261.60 L1028.5,261.46 L1029.0,261.40 L1029.5,261.41 L1030.0,261.52 L1030.5,261.73 L1031.0,262.05 L1031.5,262.51 L1032.0,263.09 L1032.5,263.80 L1033.0,264.65 L1033.5,265.63 L1034.0,266.74 L1034.5,267.97 L1035.0,269.32 L1035.5,270.76 L1036.0,272.30 L1036.5,273.92 L1037.0,275.62 L1037.5,277.38 L1038.0,279.18 L1038.5,281.03 L1039.0,282.92 L1039.5,284.83 L1040.0,286.76 L1040.5,288.71 L1041.0,290.66 L1041.5,292.61 L1042.0,294.54 L1042.5,296.47 L1043.0,298.36 L1043.5,300.22 L1044.0,302.04 L1044.5,303.80 L1045.0,305.50 L1045.5,307.13 L1046.0,308.68 L1046.5,310.14 L1047.0,311.51 L1047.5,312.78 L1048.0,313.96 L1048.5,315.03 L1049.0,316.00 L1049.5,316.88 L1050.0,317.65 L1050.5,318.34 L1051.0,318.95 L1051.5,319.47 L1052.0,319.92 L1052.5,320.30 L1053.0,320.62 L1053.5,320.89 L1054.0,321.12 L1054.5,321.30 L1055.0,321.45 L1055.5,321.57 L1056.0,321.67" stroke="#4f8ab4" stroke-width="2.2"/>
<path d="M954.0,321.66 L954.5,321.62 L955.0,321.57 L955.5,321.52 L956.0,321.45 L956.5,321.39 L957.0,321.31 L957.5,321.23 L958.0,321.14 L958.5,321.04 L959.0,320.93 L959.5,320.81 L960.0,320.68 L960.5,320.53 L961.0,320.37 L961.5,320.20 L962.0,320.01 L962.5,319.81 L963.0,319.58 L963.5,319.34 L964.0,319.08 L964.5,318.80 L965.0,318.49 L965.5,318.17 L966.0,317.81 L966.5,317.43 L967.0,317.03 L967.5,316.60 L968.0,316.13 L968.5,315.64 L969.0,315.12 L969.5,314.56 L970.0,313.97 L970.5,313.35 L971.0,312.69 L971.5,312.00 L972.0,311.27 L972.5,310.50 L973.0,309.70 L973.5,308.86 L974.0,307.98 L974.5,307.07 L975.0,306.12 L975.5,305.13 L976.0,304.11 L976.5,303.05 L977.0,301.96 L977.5,300.84 L978.0,299.68 L978.5,298.50 L979.0,297.29 L979.5,296.05 L980.0,294.79 L980.5,293.50 L981.0,292.20 L981.5,290.88 L982.0,289.54 L982.5,288.19 L983.0,286.84 L983.5,285.48 L984.0,284.11 L984.5,282.75 L985.0,281.39 L985.5,280.04 L986.0,278.69 L986.5,277.36 L987.0,276.05 L987.5,274.75 L988.0,273.47 L988.5,272.22 L989.0,270.99 L989.5,269.79 L990.0,268.61 L990.5,267.47 L991.0,266.36 L991.5,265.28 L992.0,264.24 L992.5,263.23 L993.0,262.25 L993.5,261.31 L994.0,260.40 L994.5,259.52 L995.0,258.67 L995.5,257.84 L996.0,257.05 L996.5,256.27 L997.0,255.52 L997.5,254.79 L998.0,254.07 L998.5,253.36 L999.0,252.66 L999.5,251.96 L1000.0,251.27 L1000.5,250.57 L1001.0,249.86 L1001.5,249.14 L1002.0,248.40 L1002.5,247.65 L1003.0,246.87 L1003.5,246.07 L1004.0,245.24 L1004.5,244.38 L1005.0,243.49 L1005.5,242.56 L1006.0,241.59 L1006.5,240.58 L1007.0,239.53 L1007.5,238.45 L1008.0,237.32 L1008.5,236.16 L1009.0,234.96 L1009.5,233.73 L1010.0,232.46 L1010.5,231.16 L1011.0,229.84 L1011.5,228.50 L1012.0,227.14 L1012.5,225.77 L1013.0,224.39 L1013.5,223.01 L1014.0,221.64 L1014.5,220.28 L1015.0,218.94 L1015.5,217.63 L1016.0,216.35 L1016.5,215.11 L1017.0,213.92 L1017.5,212.79 L1018.0,211.72 L1018.5,210.71 L1019.0,209.79 L1019.5,208.95 L1020.0,208.19 L1020.5,207.54 L1021.0,206.98 L1021.5,206.53 L1022.0,206.18 L1022.5,205.95 L1023.0,205.84 L1023.5,205.85 L1024.0,205.98 L1024.5,206.23 L1025.0,206.60 L1025.5,207.09 L1026.0,207.71 L1026.5,208.44 L1027.0,209.30 L1027.5,210.26 L1028.0,211.34 L1028.5,212.52 L1029.0,213.81 L1029.5,215.19 L1030.0,216.66 L1030.5,218.22 L1031.0,219.85 L1031.5,221.55 L1032.0,223.32 L1032.5,225.14 L1033.0,227.00 L1033.5,228.91 L1034.0,230.84 L1034.5,232.80 L1035.0,234.77 L1035.5,236.75 L1036.0,238.73 L1036.5,240.70 L1037.0,242.65 L1037.5,244.57 L1038.0,246.47 L1038.5,248.33 L1039.0,250.14 L1039.5,251.91 L1040.0,253.62 L1040.5,255.28 L1041.0,256.87 L1041.5,258.39 L1042.0,259.84 L1042.5,261.22 L1043.0,262.52 L1043.5,263.75 L1044.0,264.90 L1044.5,265.97 L1045.0,266.96 L1045.5,267.88 L1046.0,268.71 L1046.5,269.47 L1047.0,270.15 L1047.5,270.77 L1048.0,271.31 L1048.5,271.78 L1049.0,272.19 L1049.5,272.54 L1050.0,272.83 L1050.5,273.07 L1051.0,273.26 L1051.5,273.41 L1052.0,273.51 L1052.5,273.58 L1053.0,273.62 L1053.5,273.63 L1054.0,273.62 L1054.5,273.59 L1055.0,273.55 L1055.5,273.50 L1056.0,273.45 L1056.5,273.39 L1057.0,273.35 L1057.5,273.31 L1058.0,273.28 L1058.5,273.27 L1059.0,273.28 L1059.5,273.32 L1060.0,273.37 L1060.5,273.46 L1061.0,273.58 L1061.5,273.74 L1062.0,273.93 L1062.5,274.15 L1063.0,274.42 L1063.5,274.73 L1064.0,275.07 L1064.5,275.46 L1065.0,275.89 L1065.5,276.36 L1066.0,276.88 L1066.5,277.43 L1067.0,278.03 L1067.5,278.67 L1068.0,279.34 L1068.5,280.05 L1069.0,280.80 L1069.5,281.58 L1070.0,282.40 L1070.5,283.24 L1071.0,284.11 L1071.5,285.01 L1072.0,285.93 L1072.5,286.87 L1073.0,287.84 L1073.5,288.81 L1074.0,289.80 L1074.5,290.80 L1075.0,291.81 L1075.5,292.82 L1076.0,293.84 L1076.5,294.85 L1077.0,295.87 L1077.5,296.88 L1078.0,297.88 L1078.5,298.87 L1079.0,299.86 L1079.5,300.83 L1080.0,301.78 L1080.5,302.72 L1081.0,303.64 L1081.5,304.54 L1082.0,305.41 L1082.5,306.27 L1083.0,307.10 L1083.5,307.91 L1084.0,308.69 L1084.5,309.44 L1085.0,310.17 L1085.5,310.88 L1086.0,311.55 L1086.5,312.20 L1087.0,312.82 L1087.5,313.41 L1088.0,313.98 L1088.5,314.52 L1089.0,315.03 L1089.5,315.52 L1090.0,315.98 L1090.5,316.42 L1091.0,316.83 L1091.5,317.22 L1092.0,317.58 L1092.5,317.93 L1093.0,318.25 L1093.5,318.55 L1094.0,318.83 L1094.5,319.10 L1095.0,319.34 L1095.5,319.57 L1096.0,319.78 L1096.5,319.98 L1097.0,320.16 L1097.5,320.33 L1098.0,320.48 L1098.5,320.62 L1099.0,320.75 L1099.5,320.87 L1100.0,320.98 L1100.5,321.08 L1101.0,321.18 L1101.5,321.26 L1102.0,321.34 L1102.5,321.40 L1103.0,321.47 L1103.5,321.52 L1104.0,321.58 L1104.5,321.62 L1105.0,321.66" stroke="#ffc7c9" stroke-width="1.9"/>
<path d="M952.6,321.68 L953.1,321.64 L953.6,321.59 L954.1,321.54 L954.6,321.48 L955.1,321.41 L955.6,321.34 L956.1,321.26 L956.6,321.17 L957.1,321.07 L957.6,320.97 L958.1,320.85 L958.6,320.72 L959.1,320.57 L959.6,320.42 L960.1,320.25 L960.6,320.06 L961.1,319.86 L961.6,319.64 L962.1,319.40 L962.6,319.14 L963.1,318.87 L963.6,318.57 L964.1,318.24 L964.6,317.90 L965.1,317.53 L965.6,317.13 L966.1,316.71 L966.6,316.26 L967.1,315.78 L967.6,315.27 L968.1,314.73 L968.6,314.16 L969.1,313.56 L969.6,312.93 L970.1,312.27 L970.6,311.57 L971.1,310.84 L971.6,310.08 L972.1,309.29 L972.6,308.46 L973.1,307.60 L973.6,306.72 L974.1,305.80 L974.6,304.86 L975.1,303.89 L975.6,302.89 L976.1,301.87 L976.6,300.82 L977.1,299.76 L977.6,298.67 L978.1,297.57 L978.6,296.46 L979.1,295.33 L979.6,294.20 L980.1,293.06 L980.6,291.91 L981.1,290.76 L981.6,289.62 L982.1,288.48 L982.6,287.35 L983.1,286.22 L983.6,285.11 L984.1,284.02 L984.6,282.94 L985.1,281.88 L985.6,280.84 L986.1,279.82 L986.6,278.83 L987.1,277.87 L987.6,276.93 L988.1,276.02 L988.6,275.13 L989.1,274.28 L989.6,273.45 L990.1,272.65 L990.6,271.87 L991.1,271.12 L991.6,270.39 L992.1,269.68 L992.6,268.99 L993.1,268.32 L993.6,267.66 L994.1,267.01 L994.6,266.36 L995.1,265.72 L995.6,265.08 L996.1,264.43 L996.6,263.78 L997.1,263.11 L997.6,262.43 L998.1,261.73 L998.6,261.01 L999.1,260.26 L999.6,259.48 L1000.1,258.66 L1000.6,257.81 L1001.1,256.93 L1001.6,256.00 L1002.1,255.03 L1002.6,254.02 L1003.1,252.96 L1003.6,251.86 L1004.1,250.72 L1004.6,249.54 L1005.1,248.31 L1005.6,247.05 L1006.1,245.75 L1006.6,244.41 L1007.1,243.05 L1007.6,241.67 L1008.1,240.26 L1008.6,238.84 L1009.1,237.40 L1009.6,235.97 L1010.1,234.54 L1010.6,233.11 L1011.1,231.70 L1011.6,230.32 L1012.1,228.97 L1012.6,227.65 L1013.1,226.38 L1013.6,225.16 L1014.1,223.99 L1014.6,222.90 L1015.1,221.87 L1015.6,220.92 L1016.1,220.06 L1016.6,219.29 L1017.1,218.60 L1017.6,218.02 L1018.1,217.54 L1018.6,217.16 L1019.1,216.89 L1019.6,216.72 L1020.1,216.67 L1020.6,216.73 L1021.1,216.90 L1021.6,217.18 L1022.1,217.56 L1022.6,218.05 L1023.1,218.65 L1023.6,219.34 L1024.1,220.13 L1024.6,221.01 L1025.1,221.97 L1025.6,223.02 L1026.1,224.14 L1026.6,225.33 L1027.1,226.58 L1027.6,227.89 L1028.1,229.24 L1028.6,230.64 L1029.1,232.08 L1029.6,233.54 L1030.1,235.03 L1030.6,236.53 L1031.1,238.04 L1031.6,239.56 L1032.1,241.07 L1032.6,242.57 L1033.1,244.06 L1033.6,245.54 L1034.1,246.99 L1034.6,248.41 L1035.1,249.80 L1035.6,251.16 L1036.1,252.49 L1036.6,253.77 L1037.1,255.01 L1037.6,256.22 L1038.1,257.37 L1038.6,258.49 L1039.1,259.56 L1039.6,260.58 L1040.1,261.56 L1040.6,262.50 L1041.1,263.39 L1041.6,264.24 L1042.1,265.05 L1042.6,265.82 L1043.1,266.56 L1043.6,267.25 L1044.1,267.92 L1044.6,268.55 L1045.1,269.15 L1045.6,269.72 L1046.1,270.27 L1046.6,270.79 L1047.1,271.28 L1047.6,271.76 L1048.1,272.22 L1048.6,272.66 L1049.1,273.09 L1049.6,273.50 L1050.1,273.89 L1050.6,274.28 L1051.1,274.66 L1051.6,275.03 L1052.1,275.39 L1052.6,275.74 L1053.1,276.09 L1053.6,276.43 L1054.1,276.77 L1054.6,277.11 L1055.1,277.44 L1055.6,277.77 L1056.1,278.10 L1056.6,278.43 L1057.1,278.76 L1057.6,279.09 L1058.1,279.41 L1058.6,279.74 L1059.1,280.07 L1059.6,280.39 L1060.1,280.72 L1060.6,281.04 L1061.1,281.37 L1061.6,281.70 L1062.1,282.02 L1062.6,282.35 L1063.1,282.67 L1063.6,282.99 L1064.1,283.31 L1064.6,283.63 L1065.1,283.95 L1065.6,284.26 L1066.1,284.57 L1066.6,284.87 L1067.1,285.17 L1067.6,285.47 L1068.1,285.76 L1068.6,286.04 L1069.1,286.31 L1069.6,286.57 L1070.1,286.83 L1070.6,287.07 L1071.1,287.31 L1071.6,287.54 L1072.1,287.75 L1072.6,287.95 L1073.1,288.15 L1073.6,288.33 L1074.1,288.50 L1074.6,288.65 L1075.1,288.80 L1075.6,288.93 L1076.1,289.06 L1076.6,289.17 L1077.1,289.27 L1077.6,289.37 L1078.1,289.46 L1078.6,289.54 L1079.1,289.61 L1079.6,289.68 L1080.1,289.75 L1080.6,289.82 L1081.1,289.89 L1081.6,289.95 L1082.1,290.02 L1082.6,290.10 L1083.1,290.18 L1083.6,290.28 L1084.1,290.38 L1084.6,290.49 L1085.1,290.62 L1085.6,290.76 L1086.1,290.92 L1086.6,291.09 L1087.1,291.29 L1087.6,291.50 L1088.1,291.74 L1088.6,292.00 L1089.1,292.28 L1089.6,292.59 L1090.1,292.92 L1090.6,293.27 L1091.1,293.65 L1091.6,294.05 L1092.1,294.48 L1092.6,294.93 L1093.1,295.41 L1093.6,295.90 L1094.1,296.42 L1094.6,296.96 L1095.1,297.52 L1095.6,298.10 L1096.1,298.69 L1096.6,299.30 L1097.1,299.93 L1097.6,300.56 L1098.1,301.21 L1098.6,301.86 L1099.1,302.52 L1099.6,303.19 L1100.1,303.86 L1100.6,304.53 L1101.1,305.20 L1101.6,305.87 L1102.1,306.54 L1102.6,307.20 L1103.1,307.85 L1103.6,308.49 L1104.1,309.13 L1104.6,309.75 L1105.1,310.36 L1105.6,310.96 L1106.1,311.54 L1106.6,312.11 L1107.1,312.66 L1107.6,313.19 L1108.1,313.71 L1108.6,314.21 L1109.1,314.69 L1109.6,315.15 L1110.1,315.59 L1110.6,316.01 L1111.1,316.42 L1111.6,316.80 L1112.1,317.17 L1112.6,317.51 L1113.1,317.84 L1113.6,318.15 L1114.1,318.44 L1114.6,318.72 L1115.1,318.98 L1115.6,319.22 L1116.1,319.45 L1116.6,319.66 L1117.1,319.86 L1117.6,320.05 L1118.1,320.22 L1118.6,320.38 L1119.1,320.52 L1119.6,320.66 L1120.1,320.79 L1120.6,320.90 L1121.1,321.01 L1121.6,321.10 L1122.1,321.19 L1122.6,321.27 L1123.1,321.35 L1123.6,321.42 L1124.1,321.48 L1124.6,321.53 L1125.1,321.58 L1125.6,321.63 L1126.1,321.67" stroke="#f0849a" stroke-width="2.2"/>
</g>
<rect x="56.10" y="55.30" width="262.10" height="266.80" fill="none" stroke="#262626" stroke-width="1.5"/>
<line x1="143.20" y1="322.10" x2="143.20" y2="329.90" stroke="#262626" stroke-width="1.35"/>
<text x="143.20" y="346.10" font-size="16.6" text-anchor="middle">24</text>
<line x1="259.50" y1="322.10" x2="259.50" y2="329.90" stroke="#262626" stroke-width="1.35"/>
<text x="259.50" y="346.10" font-size="16.6" text-anchor="middle">22</text>
<text x="115.45" y="368.70" font-size="19.3" textLength="58.90" lengthAdjust="spacing">F277W</text>
<text x="181.75" y="368.70" font-size="19.3" textLength="31.60" lengthAdjust="spacing">[AB</text>
<text x="220.15" y="368.70" font-size="19.3">mag]</text>
<text x="146.70" y="79.10" font-size="18.5" class="i">z</text>
<line x1="160.60" y1="73.00" x2="171.40" y2="73.00" stroke="#262626" stroke-width="1.0"/>
<line x1="160.60" y1="76.50" x2="171.40" y2="76.50" stroke="#262626" stroke-width="1.0"/>
<text x="178.70" y="79.10" font-size="18.5">4,</text>
<text x="201.70" y="79.10" font-size="18.5" class="i">&#955;</text>
<text x="210.50" y="81.60" font-size="13.3" textLength="21.60" lengthAdjust="spacing">rest</text>
<text transform="translate(235.90,80.40) scale(1.1,1)" font-size="18.5">&#8764;</text>
<text x="256.50" y="79.10" font-size="18.5">0.55</text>
<text x="287.70" y="79.10" font-size="18.5" class="i">&#956;</text>
<text x="297.70" y="79.10" font-size="18.5">m</text>
<text x="100.90" y="100.00" font-size="18.5">Bursty</text>
<line x1="159.40" y1="95.80" x2="170.20" y2="95.80" stroke="#262626" stroke-width="1.0"/>
<line x1="164.80" y1="90.40" x2="164.80" y2="101.20" stroke="#262626" stroke-width="1.0"/>
<text x="177.60" y="100.00" font-size="18.5" textLength="45.60" lengthAdjust="spacing">slowly</text>
<text x="230.30" y="100.00" font-size="18.5">rising</text>
<text x="278.50" y="100.00" font-size="18.5">SFH</text>
<rect x="349.40" y="55.30" width="262.20" height="266.80" fill="none" stroke="#262626" stroke-width="1.5"/>
<line x1="437.20" y1="322.10" x2="437.20" y2="329.90" stroke="#262626" stroke-width="1.35"/>
<text x="437.20" y="346.10" font-size="16.6" text-anchor="middle">24</text>
<line x1="553.30" y1="322.10" x2="553.30" y2="329.90" stroke="#262626" stroke-width="1.35"/>
<text x="553.30" y="346.10" font-size="16.6" text-anchor="middle">22</text>
<text x="408.80" y="368.70" font-size="19.3" textLength="58.90" lengthAdjust="spacing">F444W</text>
<text x="475.10" y="368.70" font-size="19.3" textLength="31.60" lengthAdjust="spacing">[AB</text>
<text x="513.50" y="368.70" font-size="19.3">mag]</text>
<text x="440.10" y="79.10" font-size="18.5" class="i">z</text>
<line x1="454.00" y1="73.00" x2="464.80" y2="73.00" stroke="#262626" stroke-width="1.0"/>
<line x1="454.00" y1="76.50" x2="464.80" y2="76.50" stroke="#262626" stroke-width="1.0"/>
<text x="472.10" y="79.10" font-size="18.5">4,</text>
<text x="495.10" y="79.10" font-size="18.5" class="i">&#955;</text>
<text x="503.90" y="81.60" font-size="13.3" textLength="21.60" lengthAdjust="spacing">rest</text>
<text transform="translate(529.30,80.40) scale(1.1,1)" font-size="18.5">&#8764;</text>
<text x="549.90" y="79.10" font-size="18.5">0.88</text>
<text x="581.10" y="79.10" font-size="18.5" class="i">&#956;</text>
<text x="591.10" y="79.10" font-size="18.5">m</text>
<text x="394.30" y="100.00" font-size="18.5">Bursty</text>
<line x1="452.80" y1="95.80" x2="463.60" y2="95.80" stroke="#262626" stroke-width="1.0"/>
<line x1="458.20" y1="90.40" x2="458.20" y2="101.20" stroke="#262626" stroke-width="1.0"/>
<text x="471.00" y="100.00" font-size="18.5" textLength="45.60" lengthAdjust="spacing">slowly</text>
<text x="523.70" y="100.00" font-size="18.5">rising</text>
<text x="571.90" y="100.00" font-size="18.5">SFH</text>
<rect x="643.00" y="55.30" width="262.10" height="266.80" fill="none" stroke="#262626" stroke-width="1.5"/>
<line x1="730.50" y1="322.10" x2="730.50" y2="329.90" stroke="#262626" stroke-width="1.35"/>
<text x="730.50" y="346.10" font-size="16.6" text-anchor="middle">24</text>
<line x1="846.60" y1="322.10" x2="846.60" y2="329.90" stroke="#262626" stroke-width="1.35"/>
<text x="846.60" y="346.10" font-size="16.6" text-anchor="middle">22</text>
<text x="702.35" y="368.70" font-size="19.3" textLength="58.90" lengthAdjust="spacing">F277W</text>
<text x="768.65" y="368.70" font-size="19.3" textLength="31.60" lengthAdjust="spacing">[AB</text>
<text x="807.05" y="368.70" font-size="19.3">mag]</text>
<text x="733.60" y="79.10" font-size="18.5" class="i">z</text>
<line x1="747.50" y1="73.00" x2="758.30" y2="73.00" stroke="#262626" stroke-width="1.0"/>
<line x1="747.50" y1="76.50" x2="758.30" y2="76.50" stroke="#262626" stroke-width="1.0"/>
<text x="765.60" y="79.10" font-size="18.5">4,</text>
<text x="788.60" y="79.10" font-size="18.5" class="i">&#955;</text>
<text x="797.40" y="81.60" font-size="13.3" textLength="21.60" lengthAdjust="spacing">rest</text>
<text transform="translate(822.80,80.40) scale(1.1,1)" font-size="18.5">&#8764;</text>
<text x="843.40" y="79.10" font-size="18.5">0.55</text>
<text x="874.60" y="79.10" font-size="18.5" class="i">&#956;</text>
<text x="884.60" y="79.10" font-size="18.5">m</text>
<text x="681.20" y="100.00" font-size="18.5">Bursty</text>
<line x1="739.70" y1="95.80" x2="750.50" y2="95.80" stroke="#262626" stroke-width="1.0"/>
<line x1="745.10" y1="90.40" x2="745.10" y2="101.20" stroke="#262626" stroke-width="1.0"/>
<text x="757.30" y="100.00" font-size="18.5" textLength="53.00" lengthAdjust="spacing">steeply</text>
<text x="817.20" y="100.00" font-size="18.5">rising</text>
<text x="865.40" y="100.00" font-size="18.5">SFH</text>
<rect x="936.20" y="55.30" width="262.50" height="266.80" fill="none" stroke="#262626" stroke-width="1.5"/>
<line x1="1023.40" y1="322.10" x2="1023.40" y2="329.90" stroke="#262626" stroke-width="1.35"/>
<text x="1023.40" y="346.10" font-size="16.6" text-anchor="middle">24</text>
<line x1="1140.10" y1="322.10" x2="1140.10" y2="329.90" stroke="#262626" stroke-width="1.35"/>
<text x="1140.10" y="346.10" font-size="16.6" text-anchor="middle">22</text>
<text x="995.75" y="368.70" font-size="19.3" textLength="58.90" lengthAdjust="spacing">F444W</text>
<text x="1062.05" y="368.70" font-size="19.3" textLength="31.60" lengthAdjust="spacing">[AB</text>
<text x="1100.45" y="368.70" font-size="19.3">mag]</text>
<text x="1027.20" y="79.10" font-size="18.5" class="i">z</text>
<line x1="1041.10" y1="73.00" x2="1051.90" y2="73.00" stroke="#262626" stroke-width="1.0"/>
<line x1="1041.10" y1="76.50" x2="1051.90" y2="76.50" stroke="#262626" stroke-width="1.0"/>
<text x="1059.20" y="79.10" font-size="18.5">4,</text>
<text x="1082.20" y="79.10" font-size="18.5" class="i">&#955;</text>
<text x="1091.00" y="81.60" font-size="13.3" textLength="21.60" lengthAdjust="spacing">rest</text>
<text transform="translate(1116.40,80.40) scale(1.1,1)" font-size="18.5">&#8764;</text>
<text x="1137.00" y="79.10" font-size="18.5">0.88</text>
<text x="1168.20" y="79.10" font-size="18.5" class="i">&#956;</text>
<text x="1178.20" y="79.10" font-size="18.5">m</text>
<text x="974.80" y="100.00" font-size="18.5">Bursty</text>
<line x1="1033.30" y1="95.80" x2="1044.10" y2="95.80" stroke="#262626" stroke-width="1.0"/>
<line x1="1038.70" y1="90.40" x2="1038.70" y2="101.20" stroke="#262626" stroke-width="1.0"/>
<text x="1050.90" y="100.00" font-size="18.5" textLength="53.00" lengthAdjust="spacing">steeply</text>
<text x="1110.80" y="100.00" font-size="18.5">rising</text>
<text x="1159.00" y="100.00" font-size="18.5">SFH</text>
<text transform="translate(15.5,197.2) rotate(-90)" font-size="21.2" text-anchor="middle" textLength="136.5" lengthAdjust="spacing">Distribution of</text>
<text transform="translate(33.6,188.6) rotate(-90)" font-size="21.2" text-anchor="middle" textLength="192.0" lengthAdjust="spacing">observed magnitudes</text>
</g>
</svg>
</body></html>
